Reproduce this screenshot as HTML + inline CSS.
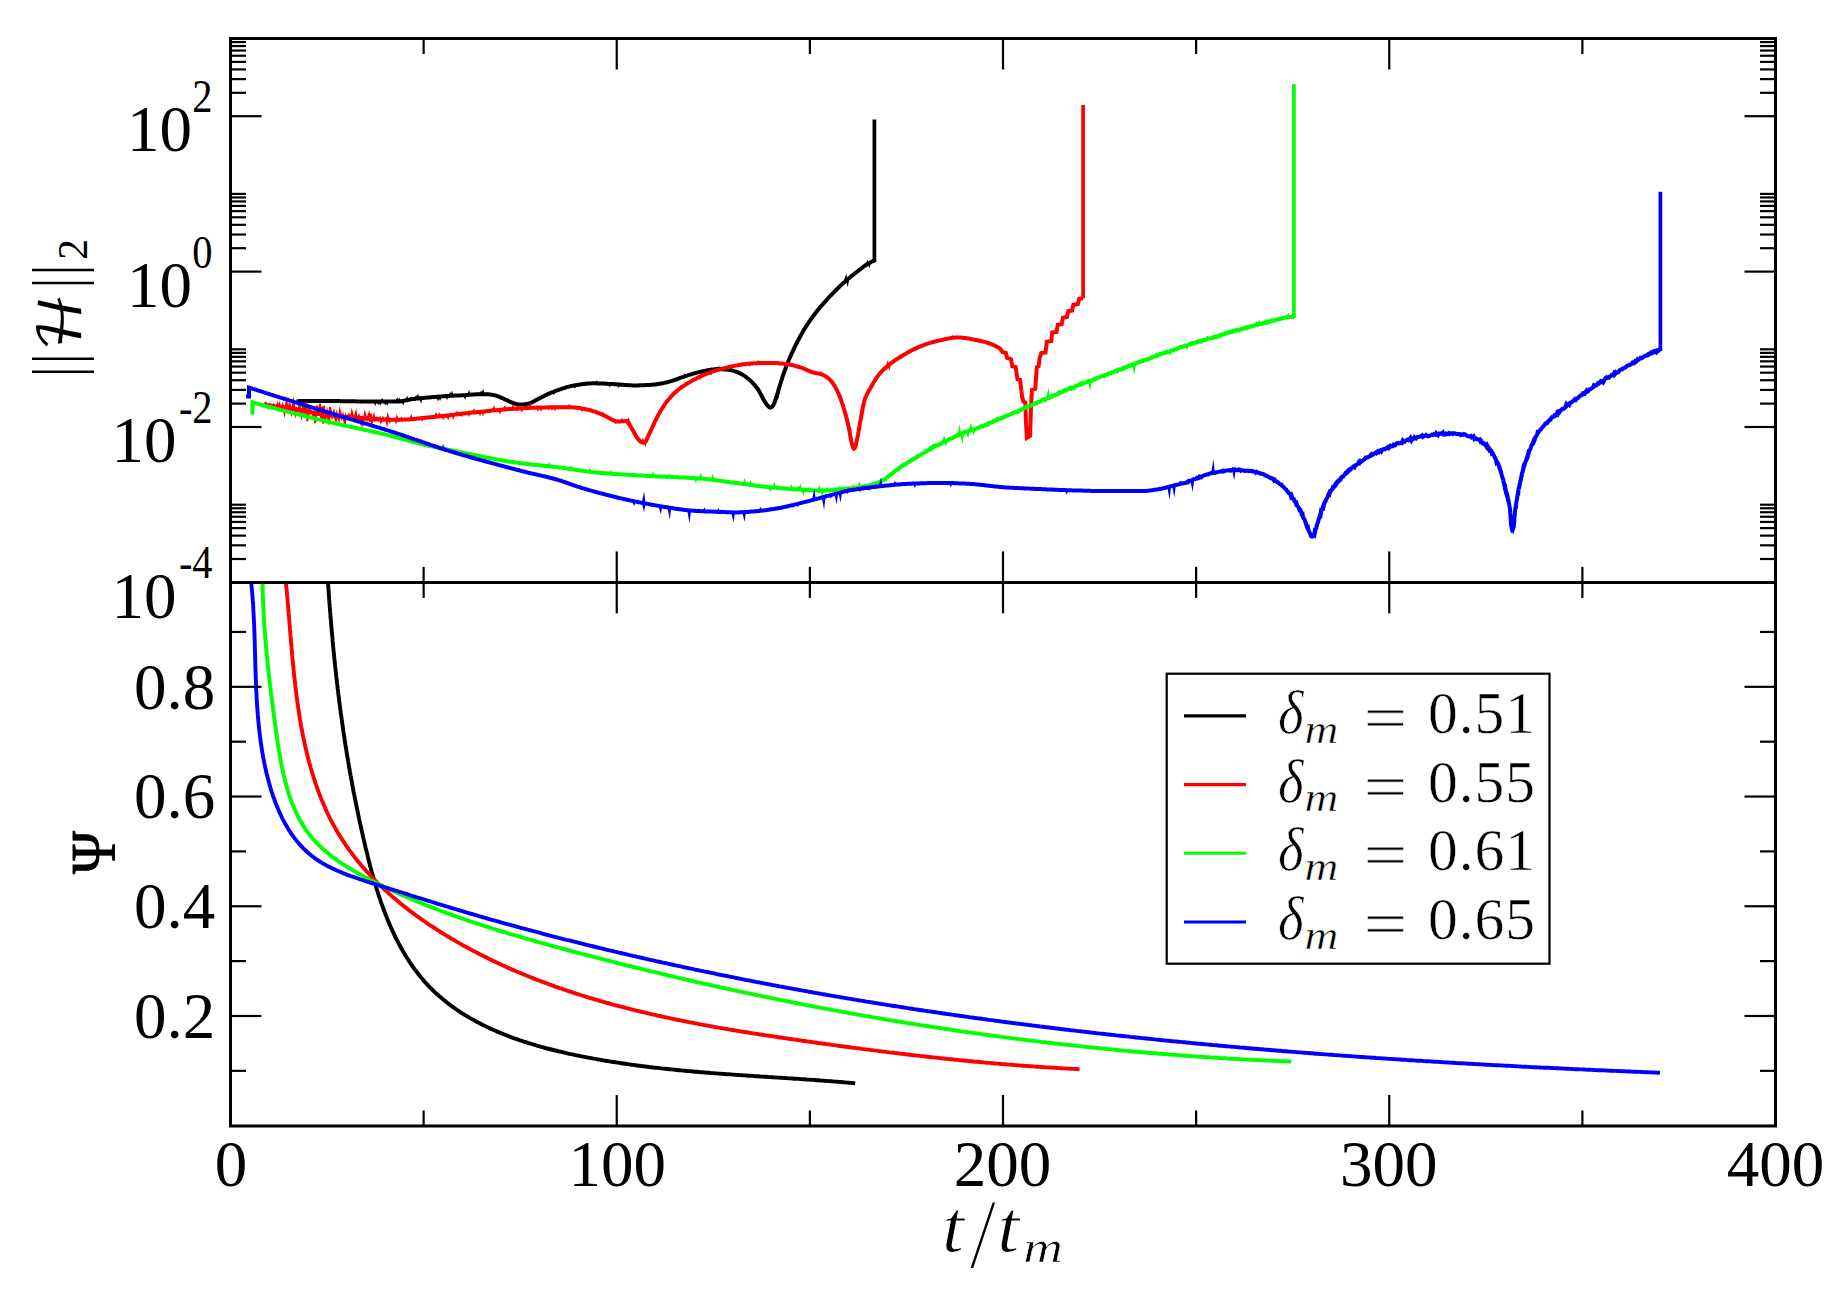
<!DOCTYPE html>
<html><head><meta charset="utf-8"><title>plot</title><style>html,body{margin:0;padding:0;background:#fff}svg{display:block}</style></head><body>
<svg width="1848" height="1293" viewBox="0 0 1848 1293">
<rect width="1848" height="1293" fill="#fff"/>
<defs><clipPath id="c1"><rect x="230.5" y="38.5" width="1545.0" height="543.9"/></clipPath>
<clipPath id="c2"><rect x="230.5" y="582.4" width="1545.0" height="543.6"/></clipPath></defs>
<g clip-path="url(#c1)">
<polyline points="296.6,401.2 297.6,401.2 298.6,401.2 299.6,401.1 300.6,401.1 301.6,401.1 302.7,401.1 303.7,401.1 304.7,401.1 305.7,401.1 306.7,401.1 307.7,401.1 308.7,401.1 309.7,401.1 310.7,401.0 311.7,401.0 312.7,401.0 313.7,401.0 314.7,401.0 315.7,401.0 316.7,401.0 317.7,401.0 318.7,401.0 319.7,401.0 320.7,401.0 321.7,401.0 322.7,401.0 323.7,401.0 324.7,401.0 325.7,401.0 326.7,401.0 327.7,401.0 328.7,401.0 329.7,401.0 330.7,401.0 331.7,401.1 332.7,401.1 333.7,401.1 334.7,401.1 335.7,401.1 336.7,401.1 337.7,401.1 338.7,401.1 339.7,401.1 340.7,401.2 341.7,401.2 342.7,401.2 343.8,401.2 344.8,401.2 345.8,401.2 346.8,401.2 347.8,401.3 348.8,401.3 349.8,401.3 350.8,401.3 351.8,401.3 352.8,401.3 353.8,401.3 354.8,401.3 355.8,401.3 356.8,401.4 357.8,401.4 358.8,401.4 359.8,401.4 360.8,401.4 361.8,401.4 362.8,401.4 363.8,401.4 364.8,401.4 365.8,401.4 366.8,401.4 367.8,401.5 368.8,401.5 369.8,401.5 370.8,401.5 371.8,401.5 372.8,401.5 373.9,401.5 374.9,401.5 375.9,401.5 376.9,401.5 377.9,401.5 378.9,401.5 379.9,401.6 380.9,401.6 381.9,401.6 382.9,401.6 383.9,401.6 384.9,401.6 385.9,401.6 386.9,401.6 387.9,401.6 388.9,401.6 389.9,401.6 390.9,401.6 391.9,401.6 392.9,401.6 393.9,401.6 394.9,401.6 395.9,401.6 396.9,401.6 397.9,401.6 398.9,401.5 399.9,401.4 400.8,401.2 401.8,401.1 402.8,400.9 403.8,400.7 404.8,400.6 405.8,400.4 406.8,400.2 407.8,400.0 408.8,399.8 409.8,399.6 410.7,399.4 411.7,399.2 412.7,399.1 413.7,399.0 414.7,398.9 415.7,398.7 416.7,398.6 417.7,398.5 418.7,398.4 419.7,398.3 420.7,398.2 421.7,398.1 422.7,398.0 423.7,397.9 424.7,397.8 425.7,397.7 426.7,397.6 427.7,397.5 428.7,397.5 429.7,397.4 430.7,397.3 431.7,397.2 432.7,397.1 433.7,397.0 434.7,396.9 435.7,396.9 436.7,396.8 437.7,396.7 438.7,396.6 439.7,396.6 440.7,396.5 441.7,396.4 442.7,396.3 443.7,396.3 444.7,396.2 445.7,396.1 446.7,396.1 447.7,396.0 448.7,395.9 449.7,395.9 450.7,395.8 451.7,395.8 452.7,395.7 453.7,395.7 454.7,395.6 455.7,395.6 456.7,395.5 457.7,395.5 458.7,395.5 459.7,395.4 460.7,395.4 461.7,395.3 462.7,395.3 463.7,395.2 464.7,395.2 465.7,395.1 466.7,395.0 467.7,395.0 468.7,394.9 469.7,394.8 470.7,394.7 471.7,394.6 472.7,394.5 473.7,394.4 474.7,394.4 475.7,394.3 476.7,394.3 477.7,394.3 478.7,394.3 479.7,394.3 480.7,394.3 481.7,394.3 482.7,394.3 483.7,394.3 484.7,394.3 485.7,394.3 486.7,394.3 487.7,394.3 488.7,394.3 489.7,394.4 490.7,394.6 491.7,394.7 492.7,394.9 493.7,395.1 494.7,395.3 495.6,395.6 496.6,395.8 497.5,396.1 498.5,396.4 499.4,396.8 500.3,397.2 501.3,397.7 502.2,398.1 503.1,398.5 504.0,398.9 504.9,399.3 505.9,399.7 506.8,400.2 507.7,400.6 508.6,401.1 509.5,401.5 510.4,401.9 511.3,402.3 512.2,402.7 513.2,403.0 514.1,403.3 515.1,403.6 516.1,404.0 517.0,404.2 518.0,404.5 519.0,404.6 520.0,404.6 521.0,404.6 522.0,404.6 523.0,404.5 524.0,404.4 525.0,404.2 526.0,404.1 527.0,403.9 528.0,403.7 528.9,403.5 529.8,403.2 530.8,402.9 531.7,402.5 532.6,402.0 533.5,401.5 534.4,401.1 535.3,400.6 536.2,400.0 537.1,399.6 538.0,399.1 538.9,398.6 539.8,398.2 540.7,397.7 541.6,397.3 542.4,396.8 543.3,396.4 544.2,395.9 545.1,395.4 546.0,395.0 546.9,394.6 547.8,394.1 548.7,393.7 549.7,393.3 550.6,392.9 551.5,392.5 552.4,392.1 553.4,391.8 554.3,391.4 555.2,391.1 556.2,390.7 557.1,390.4 558.1,390.1 559.0,389.7 560.0,389.4 560.9,389.1 561.9,388.7 562.8,388.4 563.8,388.1 564.8,387.8 565.7,387.5 566.7,387.2 567.7,386.9 568.6,386.7 569.6,386.4 570.6,386.2 571.5,385.9 572.5,385.7 573.5,385.6 574.5,385.4 575.4,385.2 576.4,385.1 577.4,384.9 578.4,384.8 579.4,384.6 580.4,384.5 581.4,384.3 582.4,384.2 583.4,384.0 584.4,383.9 585.4,383.8 586.4,383.7 587.4,383.6 588.4,383.5 589.4,383.5 590.4,383.4 591.4,383.4 592.4,383.3 593.4,383.3 594.4,383.3 595.4,383.3 596.4,383.3 597.4,383.4 598.4,383.4 599.4,383.4 600.4,383.5 601.4,383.5 602.4,383.5 603.4,383.6 604.4,383.6 605.4,383.7 606.4,383.8 607.4,383.8 608.4,383.9 609.4,383.9 610.4,384.0 611.4,384.0 612.4,384.1 613.4,384.1 614.4,384.2 615.4,384.2 616.4,384.3 617.4,384.4 618.4,384.4 619.4,384.5 620.4,384.6 621.4,384.7 622.4,384.7 623.4,384.8 624.4,384.9 625.4,385.0 626.4,385.0 627.4,385.1 628.4,385.2 629.4,385.2 630.4,385.3 631.4,385.3 632.4,385.4 633.4,385.4 634.5,385.4 635.5,385.4 636.5,385.4 637.5,385.4 638.5,385.4 639.5,385.3 640.5,385.3 641.5,385.3 642.5,385.2 643.5,385.2 644.5,385.2 645.5,385.1 646.5,385.1 647.5,385.0 648.5,384.9 649.5,384.9 650.5,384.8 651.5,384.8 652.5,384.7 653.5,384.6 654.5,384.5 655.5,384.4 656.5,384.3 657.5,384.1 658.5,384.0 659.4,383.8 660.4,383.6 661.4,383.4 662.4,383.3 663.4,383.1 664.4,382.9 665.4,382.6 666.3,382.4 667.3,382.2 668.3,382.0 669.2,381.7 670.2,381.4 671.1,381.1 672.1,380.8 673.0,380.5 674.0,380.1 674.9,379.8 675.9,379.5 676.8,379.1 677.8,378.8 678.7,378.4 679.7,378.1 680.6,377.7 681.6,377.4 682.5,377.1 683.5,376.8 684.4,376.5 685.4,376.2 686.3,375.9 687.3,375.6 688.3,375.2 689.2,374.9 690.2,374.6 691.1,374.3 692.1,374.0 693.0,373.7 694.0,373.4 695.0,373.2 695.9,372.9 696.9,372.6 697.9,372.4 698.8,372.2 699.8,371.9 700.8,371.7 701.8,371.5 702.8,371.3 703.7,371.1 704.7,370.9 705.7,370.7 706.7,370.5 707.7,370.3 708.7,370.1 709.7,370.0 710.7,369.8 711.7,369.6 712.7,369.5 713.7,369.4 714.7,369.3 715.6,369.2 716.6,369.1 717.6,369.1 718.6,369.1 719.6,369.1 720.6,369.2 721.6,369.2 722.7,369.3 723.7,369.3 724.7,369.4 725.7,369.5 726.7,369.6 727.7,369.7 728.6,369.8 729.6,369.9 730.6,370.1 731.6,370.3 732.6,370.6 733.6,370.9 734.5,371.2 735.5,371.5 736.4,371.9 737.4,372.2 738.3,372.6 739.2,373.0 740.1,373.4 741.0,373.8 741.8,374.3 742.7,374.8 743.6,375.4 744.4,375.9 745.3,376.5 746.1,377.1 746.9,377.8 747.7,378.4 748.5,379.0 749.2,379.7 750.0,380.3 750.7,381.0 751.4,381.7 752.1,382.4 752.8,383.1 753.5,383.8 754.2,384.6 754.9,385.4 755.5,386.1 756.2,386.9 756.8,387.7 757.4,388.5 757.9,389.3 758.5,390.1 759.0,391.0 759.5,391.9 760.0,392.7 760.4,393.6 760.9,394.5 761.4,395.4 761.8,396.3 762.3,397.2 762.7,398.1 763.2,399.0 763.7,399.9 764.3,400.7 764.8,401.6 765.3,402.4 765.9,403.3 766.5,404.2 767.1,405.0 767.7,405.7 768.4,406.4 769.2,407.1 770.1,407.6 770.9,407.4 771.9,406.8 772.6,406.1 773.2,405.4 773.6,404.6 774.1,403.7 774.5,402.8 774.8,401.8 775.2,400.7 775.5,399.7 775.8,398.8 776.1,397.8 776.5,396.9 776.8,395.9 777.1,395.0 777.4,394.0 777.6,393.0 777.9,392.1 778.2,391.1 778.5,390.1 778.7,389.2 779.0,388.2 779.3,387.2 779.6,386.3 779.9,385.3 780.2,384.4 780.5,383.4 780.8,382.4 781.1,381.5 781.4,380.5 781.7,379.6 782.0,378.6 782.3,377.7 782.6,376.7 782.9,375.8 783.3,374.8 783.6,373.9 783.9,372.9 784.2,372.0 784.6,371.0 784.9,370.1 785.3,369.2 785.6,368.2 786.0,367.3 786.3,366.3 786.7,365.4 787.0,364.5 787.4,363.5 787.8,362.6 788.2,361.7 788.5,360.7 788.9,359.8 789.3,358.9 789.7,358.0 790.1,357.0 790.5,356.1 790.9,355.2 791.3,354.3 791.7,353.4 792.1,352.5 792.6,351.6 793.0,350.7 793.4,349.8 793.9,348.8 794.3,347.9 794.7,347.0 795.2,346.1 795.6,345.2 796.1,344.3 796.5,343.5 797.0,342.6 797.4,341.7 797.9,340.8 798.4,339.9 798.8,339.0 799.3,338.1 799.8,337.2 800.2,336.3 800.7,335.5 801.2,334.6 801.7,333.7 802.2,332.8 802.7,332.0 803.2,331.1 803.7,330.3 804.2,329.4 804.8,328.5 805.3,327.7 805.8,326.8 806.4,326.0 806.9,325.1 807.5,324.3 808.0,323.5 808.6,322.6 809.1,321.8 809.7,321.0 810.3,320.1 810.8,319.3 811.4,318.5 812.0,317.7 812.6,316.9 813.2,316.1 813.8,315.3 814.4,314.5 815.0,313.7 815.6,312.9 816.2,312.1 816.9,311.3 817.5,310.5 818.1,309.8 818.8,309.0 819.4,308.2 820.0,307.4 820.7,306.7 821.3,305.9 822.0,305.2 822.7,304.4 823.3,303.6 824.0,302.9 824.6,302.1 825.3,301.4 826.0,300.7 826.7,299.9 827.3,299.2 828.0,298.4 828.7,297.7 829.4,297.0 830.0,296.2 830.7,295.5 831.4,294.8 832.1,294.0 832.8,293.3 833.5,292.6 834.2,291.9 834.9,291.2 835.6,290.5 836.3,289.8 837.1,289.1 837.8,288.3 838.5,287.6 839.2,286.9 839.9,286.3 840.7,285.6 841.4,284.9 842.1,284.2 842.9,283.5 843.6,282.8 844.3,282.2 845.1,281.5 845.8,280.8 846.6,280.2 847.3,279.5 848.1,278.9 848.9,278.2 849.7,277.6 850.4,277.0 851.2,276.3 852.0,275.7 852.8,275.1 853.6,274.5 854.4,273.8 855.2,273.2 855.9,272.6 856.7,272.0 857.5,271.4 858.3,270.7 859.1,270.1 859.9,269.5 860.7,268.9 861.5,268.2 862.3,267.6 863.1,267.0 863.9,266.4 864.7,265.8 865.5,265.3 866.3,264.7 867.2,264.2 868.0,263.7 868.9,263.2 869.8,262.7 870.7,262.2 871.6,261.8 872.5,261.3 873.4,260.9 874.3,260.5" fill="none" stroke="#000" stroke-width="4.00" stroke-linejoin="miter" stroke-miterlimit="3" />
<polyline points="873.4,260.9 874.3,260.5 874.4,260.5 874.4,119.5" fill="none" stroke="#000" stroke-width="3.70" stroke-linejoin="miter" stroke-miterlimit="3" />
<path d="M373.0,401.5 L375.4,405.9 L376.8,401.5 Z M376.0,401.5 L378.4,405.0 L379.8,401.5 Z M378.0,401.6 L380.4,405.8 L381.8,401.6 Z M380.0,401.6 L382.4,398.1 L383.8,401.6 Z M383.0,401.6 L385.4,405.3 L386.8,401.6 Z M385.0,401.6 L387.4,406.1 L388.8,401.6 Z M395.0,401.6 L397.4,397.1 L398.8,401.6 Z M397.0,401.5 L399.4,397.6 L400.8,401.5 Z M400.9,400.9 L403.3,405.2 L404.7,400.9 Z M404.9,400.2 L407.3,395.8 L408.7,400.2 Z M408.8,399.4 L411.2,396.2 L412.6,399.4 Z M413.8,398.7 L416.2,395.1 L417.6,398.7 Z M415.8,398.5 L418.2,393.4 L419.6,398.5 Z M418.8,398.2 L421.2,403.4 L422.6,398.2 Z M435.8,396.7 L438.2,401.4 L439.6,396.7 Z M437.8,396.6 L440.2,401.0 L441.6,396.6 Z M444.8,396.1 L447.2,400.1 L448.6,396.1 Z M447.8,395.9 L450.2,391.8 L451.6,395.9 Z M449.8,395.8 L452.2,390.7 L453.6,395.8 Z M462.8,395.2 L465.2,399.7 L466.6,395.2 Z M466.8,394.9 L469.2,390.1 L470.6,394.9 Z M478.8,394.3 L481.2,390.5 L482.6,394.3 Z M480.8,394.3 L483.2,388.8 L484.6,394.3 Z M551.5,391.8 L553.9,395.2 L555.3,391.8 Z M572.6,385.4 L575.0,388.8 L576.4,385.4 Z M594.5,383.3 L596.9,380.2 L598.3,383.3 Z M607.5,383.9 L609.9,387.4 L611.3,383.9 Z M616.5,384.4 L618.9,387.9 L620.3,384.4 Z M682.5,376.5 L684.9,373.5 L686.3,376.5 Z M699.9,371.5 L702.3,374.2 L703.7,371.5 Z M716.7,369.1 L719.1,366.0 L720.5,369.1 Z M779.2,381.5 L781.6,378.9 L783.0,381.5 Z M789.4,354.3 L791.8,357.0 L793.2,354.3 Z M843.9,280.8 L846.3,273.8 L847.7,280.8 Z M845.4,279.5 L847.8,287.0 L849.2,279.5 Z M865.3,264.2 L867.7,259.7 L869.1,264.2 Z M867.0,263.2 L869.4,268.0 L870.8,263.2 Z M773.6,399.7 L776.0,392.7 L777.4,399.7 Z M775.7,393.0 L778.1,399.5 L779.5,393.0 Z" fill="#000" stroke="none"/>
<polyline points="263.7,404.7 264.7,404.8 265.7,404.9 266.7,405.1 267.7,405.2 268.7,405.4 269.7,405.5 270.7,405.7 271.6,405.8 272.6,406.0 273.6,406.1 274.6,406.3 275.6,406.4 276.6,406.5 277.6,406.7 278.6,406.8 279.6,406.9 280.6,407.1 281.6,407.2 282.6,407.4 283.6,407.5 284.5,407.6 285.5,407.8 286.5,407.9 287.5,408.0 288.5,408.2 289.5,408.3 290.5,408.5 291.5,408.6 292.5,408.8 293.5,408.9 294.5,409.1 295.4,409.2 296.4,409.4 297.4,409.5 298.4,409.7 299.4,409.9 300.4,410.1 301.4,410.3 302.4,410.5 303.3,410.7 304.3,410.9 305.3,411.1 306.3,411.3 307.3,411.5 308.2,411.7 309.2,411.9 310.2,412.1 311.2,412.3 312.2,412.5 313.2,412.7 314.1,412.9 315.1,413.1 316.1,413.3 317.1,413.4 318.1,413.6 319.1,413.8 320.0,414.0 321.0,414.1 322.0,414.3 323.0,414.4 324.0,414.5 325.0,414.7 326.0,414.8 327.0,414.9 328.0,415.1 329.0,415.2 330.0,415.3 331.0,415.4 332.0,415.5 332.9,415.7 333.9,415.8 334.9,415.9 335.9,416.0 336.9,416.1 337.9,416.2 338.9,416.3 339.9,416.4 340.9,416.5 341.9,416.6 342.9,416.7 343.9,416.8 344.9,416.9 345.9,417.0 346.9,417.1 347.9,417.1 348.9,417.2 349.9,417.3 350.9,417.4 351.9,417.5 352.9,417.6 353.9,417.7 354.9,417.7 355.9,417.8 356.9,417.9 357.9,418.0 358.9,418.1 359.9,418.1 360.9,418.2 361.9,418.3 362.9,418.3 363.9,418.4 364.9,418.4 365.9,418.5 366.9,418.6 367.9,418.6 368.9,418.7 369.9,418.7 370.9,418.8 371.9,418.9 372.9,418.9 373.9,419.0 374.9,419.0 375.9,419.1 376.9,419.2 377.9,419.2 378.9,419.3 379.9,419.3 380.9,419.4 381.9,419.4 382.9,419.5 383.9,419.5 384.9,419.6 385.9,419.6 386.9,419.6 387.9,419.7 388.9,419.7 389.9,419.7 390.9,419.8 391.9,419.8 392.9,419.8 393.9,419.8 394.9,419.8 395.9,419.8 396.9,419.8 397.9,419.8 398.9,419.8 399.9,419.8 400.9,419.7 401.9,419.7 402.9,419.7 403.9,419.6 404.9,419.6 405.9,419.5 406.9,419.5 407.9,419.4 408.9,419.4 409.9,419.3 410.9,419.3 411.9,419.2 412.9,419.1 413.9,419.0 414.9,418.9 415.9,418.8 416.9,418.6 417.9,418.5 418.9,418.4 419.9,418.3 420.9,418.2 421.9,418.1 422.9,418.0 423.9,417.9 424.9,417.8 425.9,417.7 426.9,417.6 427.9,417.5 428.9,417.4 429.9,417.3 430.9,417.2 431.9,417.1 432.9,417.0 433.8,416.9 434.8,416.8 435.8,416.7 436.8,416.6 437.8,416.5 438.8,416.4 439.8,416.3 440.8,416.2 441.8,416.1 442.8,416.0 443.8,415.9 444.8,415.8 445.8,415.7 446.8,415.6 447.8,415.5 448.8,415.4 449.8,415.3 450.8,415.1 451.8,415.0 452.8,414.9 453.8,414.8 454.8,414.6 455.8,414.5 456.7,414.4 457.7,414.3 458.7,414.1 459.7,414.0 460.7,413.9 461.7,413.7 462.7,413.6 463.7,413.5 464.7,413.4 465.7,413.3 466.7,413.2 467.7,413.1 468.7,412.9 469.7,412.8 470.7,412.7 471.7,412.6 472.7,412.5 473.7,412.5 474.7,412.4 475.7,412.3 476.7,412.2 477.7,412.1 478.7,412.0 479.7,411.9 480.6,411.8 481.6,411.7 482.6,411.6 483.6,411.5 484.6,411.4 485.6,411.3 486.6,411.2 487.6,411.1 488.6,411.0 489.6,410.9 490.6,410.8 491.6,410.6 492.6,410.5 493.6,410.4 494.6,410.3 495.6,410.2 496.6,410.2 497.6,410.1 498.6,410.0 499.6,409.9 500.6,409.8 501.6,409.7 502.6,409.6 503.6,409.5 504.6,409.5 505.6,409.4 506.6,409.3 507.6,409.2 508.6,409.1 509.6,409.1 510.6,409.0 511.6,408.9 512.6,408.9 513.6,408.8 514.6,408.7 515.6,408.7 516.6,408.6 517.6,408.5 518.6,408.5 519.6,408.4 520.6,408.4 521.6,408.3 522.6,408.2 523.6,408.2 524.6,408.1 525.6,408.1 526.6,408.0 527.6,408.0 528.6,407.9 529.6,407.9 530.6,407.8 531.6,407.8 532.6,407.7 533.6,407.7 534.6,407.7 535.6,407.7 536.6,407.6 537.6,407.6 538.6,407.6 539.6,407.5 540.6,407.5 541.6,407.5 542.6,407.5 543.6,407.4 544.6,407.4 545.6,407.4 546.6,407.4 547.6,407.3 548.6,407.3 549.6,407.3 550.6,407.3 551.6,407.3 552.6,407.3 553.6,407.3 554.6,407.3 555.6,407.3 556.6,407.2 557.6,407.2 558.6,407.2 559.6,407.2 560.6,407.2 561.6,407.2 562.6,407.2 563.6,407.2 564.6,407.2 565.6,407.2 566.6,407.2 567.6,407.2 568.6,407.2 569.6,407.2 570.6,407.2 571.6,407.3 572.6,407.3 573.6,407.4 574.6,407.5 575.6,407.6 576.6,407.7 577.6,407.8 578.6,408.0 579.6,408.1 580.6,408.3 581.6,408.5 582.6,408.7 583.6,408.8 584.6,409.0 585.6,409.2 586.6,409.4 587.5,409.6 588.5,409.8 589.5,410.0 590.4,410.3 591.4,410.5 592.4,410.8 593.3,411.1 594.3,411.4 595.2,411.7 596.1,412.1 597.1,412.5 598.0,412.9 598.9,413.2 599.9,413.6 600.8,414.0 601.7,414.4 602.6,414.8 603.6,415.2 604.5,415.6 605.4,416.1 606.3,416.5 607.2,417.0 608.1,417.6 609.0,418.1 609.9,418.6 610.9,419.1 611.8,419.6 612.7,420.1 613.6,420.5 614.5,420.8 615.4,421.1 616.4,421.3 617.3,421.4 618.3,421.4 619.3,421.4 620.4,421.4 621.5,421.3 622.6,421.2 623.6,421.2 624.6,421.1 625.5,421.1 626.3,421.1 627.1,421.2 627.7,421.7 628.3,422.3 628.9,423.2 629.5,424.2 630.0,425.3 630.5,426.4 631.1,427.4 631.6,428.3 632.2,429.2 632.7,430.0 633.2,430.9 633.7,431.8 634.2,432.8 634.7,433.7 635.2,434.6 635.7,435.5 636.2,436.4 636.7,437.2 637.3,438.0 637.9,438.8 638.5,439.5 639.1,440.2 639.8,440.9 640.6,441.5 641.5,442.1 642.5,442.5 643.4,442.5 644.4,442.3 645.1,441.9 645.7,441.3 646.3,440.6 646.7,439.7 647.2,438.7 647.6,437.6 648.0,436.5 648.4,435.5 648.9,434.5 649.3,433.7 649.8,432.8 650.2,431.9 650.7,430.9 651.1,430.0 651.5,429.1 651.9,428.2 652.3,427.3 652.7,426.4 653.2,425.5 653.6,424.6 654.0,423.6 654.4,422.7 654.8,421.8 655.2,420.9 655.7,420.0 656.1,419.1 656.6,418.2 657.0,417.3 657.5,416.4 658.0,415.6 658.5,414.7 658.9,413.8 659.4,412.9 659.9,412.1 660.5,411.2 661.0,410.3 661.5,409.5 662.0,408.6 662.6,407.8 663.1,406.9 663.6,406.1 664.2,405.2 664.8,404.4 665.4,403.6 665.9,402.8 666.5,402.0 667.1,401.2 667.8,400.5 668.4,399.7 669.0,398.9 669.7,398.1 670.4,397.4 671.0,396.6 671.7,395.9 672.4,395.1 673.1,394.4 673.8,393.7 674.6,393.0 675.3,392.3 676.0,391.7 676.8,391.0 677.5,390.4 678.3,389.8 679.1,389.1 679.9,388.5 680.7,387.9 681.5,387.3 682.3,386.8 683.1,386.2 684.0,385.6 684.8,385.1 685.7,384.5 686.5,384.0 687.4,383.5 688.2,382.9 689.1,382.4 690.0,381.9 690.8,381.4 691.7,380.9 692.6,380.4 693.4,379.9 694.3,379.5 695.2,379.0 696.1,378.5 697.0,378.1 697.9,377.6 698.8,377.2 699.7,376.7 700.6,376.3 701.5,375.9 702.4,375.5 703.4,375.1 704.3,374.7 705.2,374.3 706.1,373.9 707.1,373.6 708.0,373.2 708.9,372.9 709.9,372.5 710.8,372.2 711.8,371.9 712.7,371.5 713.7,371.2 714.6,370.9 715.6,370.6 716.5,370.3 717.5,370.0 718.5,369.7 719.4,369.5 720.4,369.2 721.4,368.9 722.3,368.7 723.3,368.4 724.3,368.1 725.2,367.9 726.2,367.6 727.2,367.4 728.2,367.2 729.1,366.9 730.1,366.7 731.1,366.5 732.1,366.3 733.1,366.1 734.0,365.9 735.0,365.7 736.0,365.6 737.0,365.4 738.0,365.2 739.0,365.1 740.0,364.9 740.9,364.7 741.9,364.6 742.9,364.4 743.9,364.3 744.9,364.2 745.9,364.0 746.9,363.9 747.9,363.8 748.9,363.7 749.9,363.6 750.9,363.5 751.9,363.4 752.9,363.4 753.9,363.3 754.9,363.3 755.9,363.2 756.9,363.2 757.9,363.2 758.9,363.1 759.9,363.1 760.9,363.0 761.9,363.0 762.9,363.0 763.9,363.0 764.9,362.9 765.9,362.9 766.9,362.9 767.9,362.9 768.9,362.9 769.9,362.9 770.9,362.9 771.9,362.9 772.9,362.9 773.9,363.0 774.9,363.0 775.9,363.1 776.9,363.1 777.9,363.2 778.9,363.3 779.9,363.4 780.9,363.5 781.9,363.6 782.9,363.7 783.9,363.8 784.9,363.9 785.9,364.1 786.9,364.2 787.9,364.3 788.9,364.4 789.9,364.6 790.8,364.8 791.8,365.0 792.8,365.2 793.8,365.5 794.8,365.7 795.7,366.0 796.7,366.3 797.7,366.6 798.6,366.8 799.6,367.1 800.5,367.4 801.5,367.7 802.4,368.1 803.4,368.4 804.3,368.8 805.2,369.2 806.1,369.7 807.0,370.1 807.9,370.5 808.9,370.9 809.8,371.3 810.7,371.7 811.7,372.0 812.6,372.3 813.6,372.5 814.6,372.8 815.6,373.0 816.6,373.2 817.5,373.4 818.5,373.6 819.5,373.8 820.5,374.1 821.4,374.4 822.3,374.7 823.2,375.1 824.1,375.5 825.0,376.0 825.9,376.6 826.8,377.1 827.6,377.7 828.4,378.3 829.1,379.0 829.8,379.6 830.5,380.3 831.2,381.1 831.8,381.9 832.4,382.7 833.0,383.5 833.6,384.4 834.1,385.2 834.7,386.1 835.2,387.0 835.7,387.8 836.2,388.7 836.6,389.6 837.1,390.5 837.5,391.3 837.9,392.3 838.3,393.2 838.7,394.1 839.1,395.0 839.5,395.9 839.9,396.9 840.2,397.8 840.6,398.8 840.9,399.7 841.3,400.7 841.6,401.6 841.9,402.6 842.2,403.5 842.6,404.5 842.9,405.5 843.2,406.4 843.5,407.4 843.8,408.3 844.1,409.3 844.4,410.2 844.6,411.2 844.9,412.1 845.2,413.1 845.5,414.1 845.7,415.0 846.0,416.0 846.2,417.0 846.5,418.0 846.7,418.9 847.0,419.9 847.2,420.9 847.5,421.9 847.7,422.8 847.9,423.8 848.2,424.8 848.4,425.7 848.6,426.7 848.8,427.7 849.0,428.7 849.2,429.7 849.4,430.7 849.5,431.7 849.7,432.7 849.9,433.7 850.1,434.7 850.2,435.7 850.4,436.6 850.6,437.6 850.8,438.6 851.0,439.6 851.2,440.6 851.4,441.6 851.6,442.5 851.9,443.5 852.1,444.4 852.4,445.4 852.7,446.4 853.1,447.6 853.5,448.5 854.1,448.7 854.8,448.0 855.3,447.0 855.6,446.2 855.9,445.2 856.1,444.2 856.3,443.2 856.5,442.2 856.7,441.2 856.9,440.2 857.1,439.2 857.3,438.2 857.5,437.2 857.7,436.3 857.9,435.3 858.1,434.3 858.2,433.3 858.4,432.3 858.6,431.3 858.7,430.3 858.9,429.4 859.1,428.4 859.2,427.4 859.4,426.4 859.6,425.4 859.8,424.4 859.9,423.4 860.1,422.4 860.3,421.5 860.5,420.5 860.7,419.5 860.9,418.5 861.0,417.5 861.2,416.5 861.4,415.5 861.6,414.5 861.7,413.5 861.9,412.5 862.1,411.5 862.3,410.5 862.5,409.5 862.6,408.5 862.8,407.6 863.0,406.6 863.2,405.6 863.5,404.6 863.7,403.7 863.9,402.7 864.2,401.7 864.4,400.8 864.7,399.8 865.0,398.9 865.3,398.0 865.7,397.1 866.1,396.1 866.5,395.2 866.9,394.3 867.4,393.4 867.9,392.6 868.4,391.7 868.9,390.8 869.4,389.9 869.9,389.0 870.4,388.2 870.9,387.3 871.4,386.4 871.9,385.5 872.4,384.6 872.9,383.8 873.4,382.9 873.9,382.0 874.4,381.2 874.9,380.3 875.5,379.5 876.0,378.6 876.6,377.8 877.1,377.0 877.7,376.2 878.3,375.4 878.9,374.6 879.5,373.8 880.2,373.1 880.8,372.3 881.5,371.6 882.2,370.9 882.9,370.1 883.7,369.4 884.4,368.7 885.2,368.1 885.9,367.4 886.7,366.7 887.4,366.1 888.2,365.4 888.9,364.8 889.7,364.2 890.5,363.6 891.3,363.0 892.1,362.4 892.9,361.8 893.8,361.2 894.6,360.6 895.4,360.1 896.3,359.5 897.1,359.0 897.9,358.4 898.8,357.9 899.6,357.3 900.5,356.8 901.3,356.3 902.2,355.8 903.0,355.2 903.9,354.7 904.8,354.2 905.6,353.7 906.5,353.2 907.4,352.7 908.2,352.2 909.1,351.7 910.0,351.2 910.9,350.7 911.8,350.3 912.7,349.8 913.6,349.4 914.5,348.9 915.4,348.5 916.3,348.1 917.2,347.7 918.1,347.3 919.0,346.9 920.0,346.5 920.9,346.2 921.8,345.8 922.8,345.4 923.7,345.1 924.6,344.7 925.6,344.4 926.5,344.0 927.5,343.7 928.4,343.4 929.4,343.1 930.4,342.8 931.3,342.5 932.3,342.2 933.3,342.0 934.2,341.8 935.2,341.5 936.2,341.3 937.1,341.0 938.1,340.8 939.1,340.6 940.1,340.3 941.0,340.1 942.0,339.9 943.0,339.6 944.0,339.4 945.0,339.2 946.0,339.0 947.0,338.8 948.0,338.6 949.0,338.4 950.0,338.2 950.9,338.1 951.9,337.9 952.9,337.8 953.9,337.7 954.9,337.6 955.9,337.6 956.9,337.5 957.9,337.5 958.9,337.5 959.9,337.5 960.9,337.6 961.9,337.7 962.9,337.7 963.9,337.9 964.8,338.0 965.8,338.1 966.8,338.3 967.8,338.5 968.8,338.6 969.8,338.8 970.8,339.0 971.8,339.2 972.8,339.4 973.8,339.6 974.8,339.8 975.7,340.0 976.7,340.2 977.7,340.3 978.7,340.5 979.7,340.8 980.7,341.0 981.7,341.2 982.6,341.4 983.6,341.7 984.6,341.9 985.6,342.2 986.5,342.5 987.5,342.7 988.4,343.0 989.4,343.3 990.3,343.7 991.2,344.0 992.1,344.4 993.1,344.8 994.0,345.2 994.9,345.7 995.8,346.1 996.6,346.6 997.5,347.1 998.4,347.6 999.3,348.1 1000.1,348.7 1002.6,352.1 1005.8,352.7 1007.1,357.9 1011.0,359.2 1012.3,366.4 1015.6,367.0 1017.5,379.4 1020.1,380.0 1022.1,396.9 1023.4,401.4 1025.3,402.7 1026.0,422.9 1026.9,437.8 1030.1,435.8 1030.9,409.9 1031.9,389.7 1035.3,388.8 1036.8,367.3 1038.6,366.4 1039.6,357.9 1041.3,353.0 1045.5,352.5 1046.8,341.7 1051.3,341.0 1052.2,332.6 1056.5,331.9 1057.8,324.8 1061.7,324.2 1063.0,317.7 1066.9,317.0 1068.2,311.2 1072.1,310.5 1073.4,304.7 1077.9,304.0 1079.2,298.8 1083.1,298.2" fill="none" stroke="#f00" stroke-width="4.00" stroke-linejoin="miter" stroke-miterlimit="3" />
<polyline points="1083.1,298.2 1083.1,298.2 1083.1,105.0" fill="none" stroke="#f00" stroke-width="3.70" stroke-linejoin="miter" stroke-miterlimit="3" />
<polyline points="263.7,404.7 265.7,402.7 267.7,407.6 269.7,404.3 271.6,407.0 273.6,404.5 275.6,407.6 277.6,403.8 278.6,408.6 279.6,404.7 280.6,409.4 282.6,404.7 284.5,413.4 286.5,401.7 288.5,413.2 289.5,403.2 291.5,412.6 293.5,401.8 295.4,413.7 296.4,408.6 298.4,412.1 299.4,404.4 301.4,415.3 303.3,403.1 304.3,414.0 306.3,402.2 307.3,421.3 309.2,405.1 310.2,412.9 311.2,410.9 313.2,415.6 314.1,410.5 315.1,423.1 317.1,405.6 318.1,415.8 320.0,403.8 321.0,419.4 322.0,406.7 323.0,423.8 324.0,405.9 325.0,421.8 327.0,411.6 329.0,424.3 330.0,407.0 332.0,416.7 333.9,411.4 335.9,421.6 336.9,413.7 338.9,420.0 339.9,410.8 341.9,417.9 342.9,414.8 344.9,424.1 345.9,415.5 346.9,417.7 348.9,414.5 350.9,418.7 351.9,412.0 353.9,419.6 355.9,412.6 356.9,419.7 358.9,415.7 360.9,423.1 361.9,415.9 362.9,423.1 364.9,413.2 366.9,419.9 368.9,413.8 369.9,421.9 370.9,413.5 371.9,422.8 373.9,415.5 374.9,420.4 376.9,417.7 378.9,420.4 379.9,418.1 380.9,422.1 382.9,417.9 383.9,420.5 385.9,418.5 386.9,422.8 387.9,415.7 389.9,421.5 390.9,419.3 392.9,420.2 394.9,419.1 395.9,421.6 396.9,417.3 398.9,422.0" fill="none" stroke="#f00" stroke-width="1.90" stroke-linejoin="miter" stroke-miterlimit="6"/>
<path d="M399.0,419.7 L401.4,416.2 L402.8,419.7 Z M409.0,419.3 L411.4,413.9 L412.8,419.3 Z M420.0,418.1 L422.4,421.8 L423.8,418.1 Z M433.9,416.7 L436.3,411.4 L437.7,416.7 Z M436.9,416.4 L439.3,411.8 L440.7,416.4 Z M440.9,416.0 L443.3,420.3 L444.7,416.0 Z M445.9,415.5 L448.3,420.6 L449.7,415.5 Z M450.9,414.9 L453.3,420.1 L454.7,414.9 Z M454.8,414.4 L457.2,410.5 L458.6,414.4 Z M459.8,413.7 L462.2,417.3 L463.6,413.7 Z M466.8,412.9 L469.2,416.9 L470.6,412.9 Z M471.8,412.5 L474.2,408.1 L475.6,412.5 Z M477.8,411.9 L480.2,416.4 L481.6,411.9 Z M480.7,411.6 L483.1,416.6 L484.5,411.6 Z M491.7,410.4 L494.1,405.1 L495.5,410.4 Z M497.7,409.9 L500.1,414.7 L501.5,409.9 Z M502.7,409.5 L505.1,404.7 L506.5,409.5 Z M510.7,408.9 L513.1,403.9 L514.5,408.9 Z M514.7,408.6 L517.1,411.8 L518.5,408.6 Z M519.7,408.3 L522.1,412.4 L523.5,408.3 Z M527.7,407.9 L530.1,403.0 L531.5,407.9 Z M535.7,407.6 L538.1,412.1 L539.5,407.6 Z M538.7,407.5 L541.1,411.8 L542.5,407.5 Z M546.7,407.3 L549.1,410.7 L550.5,407.3 Z M549.7,407.3 L552.1,410.9 L553.5,407.3 Z M552.7,407.3 L555.1,411.5 L556.5,407.3 Z M566.7,407.2 L569.1,403.7 L570.5,407.2 Z M579.7,408.5 L582.1,412.1 L583.5,408.5 Z M590.5,410.8 L592.9,413.8 L594.3,410.8 Z M600.7,414.8 L603.1,411.4 L604.5,414.8 Z M613.5,421.1 L615.9,424.6 L617.3,421.1 Z M619.6,421.3 L622.0,417.7 L623.4,421.3 Z M678.0,388.5 L680.4,385.0 L681.8,388.5 Z M689.8,380.9 L692.2,378.3 L693.6,380.9 Z M697.8,376.7 L700.2,380.0 L701.6,376.7 Z M708.9,372.2 L711.3,375.6 L712.7,372.2 Z M740.0,364.6 L742.4,361.8 L743.8,364.6 Z M748.0,363.6 L750.4,366.7 L751.8,363.6 Z M756.0,363.2 L758.4,360.0 L759.8,363.2 Z M784.0,364.1 L786.4,367.8 L787.8,364.1 Z M795.8,366.6 L798.2,369.5 L799.6,366.6 Z M818.6,374.1 L821.0,370.7 L822.4,374.1 Z M839.4,400.7 L841.8,397.7 L843.2,400.7 Z M857.2,428.4 L859.6,431.5 L861.0,428.4 Z M884.0,367.4 L886.4,370.6 L887.8,367.4 Z M899.4,356.3 L901.8,359.3 L903.2,356.3 Z M914.4,348.1 L916.8,351.1 L918.2,348.1 Z M940.1,339.9 L942.5,342.5 L943.9,339.9 Z M950.0,337.9 L952.4,334.8 L953.8,337.9 Z M993.0,345.7 L995.4,348.5 L996.8,345.7 Z M626.4,422.3 L628.8,417.3 L630.2,422.3 Z M625.2,421.2 L627.6,426.2 L629.0,421.2 Z M640.6,442.5 L643.0,437.5 L644.4,442.5 Z M643.2,441.9 L645.6,446.9 L647.0,441.9 Z M885.5,366.1 L887.9,360.1 L889.3,366.1 Z M887.0,364.8 L889.4,370.8 L890.8,364.8 Z" fill="#f00" stroke="none"/>
<polyline points="250.3,412.4 252.5,412.4 252.5,402.4 252.5,402.4 253.5,402.7 254.4,402.9 255.4,403.2 256.4,403.4 257.3,403.7 258.3,404.0 259.3,404.2 260.2,404.5 261.2,404.7 262.2,405.0 263.1,405.3 264.1,405.5 265.1,405.8 266.0,406.0 267.0,406.3 268.0,406.6 268.9,406.8 269.9,407.1 270.9,407.3 271.9,407.6 272.8,407.8 273.8,408.1 274.8,408.3 275.7,408.6 276.7,408.8 277.7,409.1 278.6,409.4 279.6,409.6 280.6,409.9 281.5,410.1 282.5,410.4 283.5,410.6 284.5,410.9 285.4,411.1 286.4,411.4 287.4,411.6 288.3,411.9 289.3,412.1 290.3,412.4 291.2,412.6 292.2,412.9 293.2,413.1 294.2,413.4 295.1,413.6 296.1,413.8 297.1,414.1 298.0,414.3 299.0,414.6 300.0,414.8 301.0,415.1 301.9,415.3 302.9,415.6 303.9,415.8 304.8,416.0 305.8,416.3 306.8,416.5 307.8,416.8 308.7,417.0 309.7,417.3 310.7,417.5 311.6,417.7 312.6,418.0 313.6,418.2 314.6,418.5 315.5,418.7 316.5,418.9 317.5,419.2 318.4,419.4 319.4,419.6 320.4,419.9 321.4,420.1 322.3,420.3 323.3,420.6 324.3,420.8 325.3,421.0 326.2,421.3 327.2,421.5 328.2,421.7 329.2,422.0 330.1,422.2 331.1,422.4 332.1,422.6 333.1,422.9 334.0,423.1 335.0,423.3 336.0,423.5 337.0,423.8 337.9,424.0 338.9,424.2 339.9,424.4 340.9,424.6 341.9,424.8 342.8,425.1 343.8,425.3 344.8,425.5 345.8,425.7 346.8,425.9 347.7,426.1 348.7,426.4 349.7,426.6 350.7,426.8 351.6,427.0 352.6,427.2 353.6,427.4 354.6,427.6 355.6,427.8 356.5,428.1 357.5,428.3 358.5,428.5 359.5,428.7 360.5,428.9 361.4,429.1 362.4,429.3 363.4,429.6 364.4,429.8 365.4,430.0 366.3,430.2 367.3,430.4 368.3,430.6 369.3,430.8 370.2,431.1 371.2,431.3 372.2,431.5 373.2,431.7 374.2,431.9 375.1,432.2 376.1,432.4 377.1,432.6 378.1,432.8 379.0,433.0 380.0,433.3 381.0,433.5 382.0,433.7 382.9,434.0 383.9,434.2 384.9,434.4 385.9,434.6 386.8,434.9 387.8,435.1 388.8,435.3 389.8,435.6 390.7,435.8 391.7,436.1 392.7,436.3 393.6,436.5 394.6,436.8 395.6,437.0 396.6,437.3 397.5,437.5 398.5,437.8 399.5,438.0 400.4,438.3 401.4,438.6 402.3,438.8 403.3,439.1 404.3,439.4 405.2,439.7 406.2,439.9 407.2,440.2 408.1,440.5 409.1,440.8 410.1,441.0 411.0,441.3 412.0,441.5 413.0,441.8 413.9,442.1 414.9,442.3 415.9,442.6 416.8,442.8 417.8,443.1 418.8,443.3 419.7,443.6 420.7,443.8 421.7,444.1 422.7,444.3 423.6,444.6 424.6,444.8 425.6,445.0 426.6,445.3 427.5,445.5 428.5,445.7 429.5,446.0 430.5,446.2 431.4,446.4 432.4,446.6 433.4,446.8 434.4,447.0 435.3,447.2 436.3,447.4 437.3,447.6 438.3,447.8 439.3,448.0 440.3,448.2 441.2,448.4 442.2,448.6 443.2,448.8 444.2,449.0 445.2,449.1 446.2,449.3 447.1,449.5 448.1,449.7 449.1,449.9 450.1,450.1 451.1,450.3 452.1,450.5 453.0,450.7 454.0,450.9 455.0,451.1 456.0,451.3 457.0,451.5 457.9,451.7 458.9,451.9 459.9,452.1 460.9,452.3 461.9,452.5 462.9,452.7 463.8,452.9 464.8,453.1 465.8,453.3 466.8,453.5 467.8,453.7 468.8,453.9 469.7,454.0 470.7,454.2 471.7,454.4 472.7,454.6 473.7,454.8 474.6,455.0 475.6,455.2 476.6,455.4 477.6,455.6 478.6,455.8 479.6,456.0 480.5,456.2 481.5,456.4 482.5,456.6 483.5,456.8 484.5,457.0 485.4,457.2 486.4,457.4 487.4,457.6 488.4,457.8 489.4,458.0 490.3,458.2 491.3,458.4 492.3,458.6 493.3,458.8 494.3,459.0 495.3,459.2 496.2,459.4 497.2,459.6 498.2,459.8 499.2,460.0 500.2,460.1 501.2,460.3 502.2,460.5 503.1,460.6 504.1,460.8 505.1,460.9 506.1,461.1 507.1,461.2 508.1,461.4 509.1,461.5 510.1,461.7 511.1,461.8 512.1,462.0 513.0,462.1 514.0,462.2 515.0,462.4 516.0,462.5 517.0,462.7 518.0,462.8 519.0,462.9 520.0,463.1 521.0,463.2 522.0,463.3 523.0,463.4 524.0,463.6 525.0,463.7 526.0,463.8 526.9,463.9 527.9,464.1 528.9,464.2 529.9,464.3 530.9,464.4 531.9,464.5 532.9,464.7 533.9,464.8 534.9,464.9 535.9,465.0 536.9,465.1 537.9,465.2 538.9,465.3 539.9,465.4 540.9,465.5 541.9,465.6 542.9,465.7 543.9,465.8 544.9,465.9 545.9,466.0 546.9,466.1 547.9,466.2 548.9,466.3 549.9,466.4 550.9,466.5 551.8,466.6 552.8,466.7 553.8,466.8 554.8,466.9 555.8,467.0 556.8,467.1 557.8,467.2 558.8,467.4 559.8,467.5 560.8,467.6 561.8,467.7 562.8,467.9 563.8,468.0 564.8,468.2 565.8,468.3 566.8,468.4 567.7,468.6 568.7,468.7 569.7,468.9 570.7,469.0 571.7,469.2 572.7,469.3 573.7,469.5 574.7,469.6 575.7,469.8 576.7,469.9 577.7,470.1 578.7,470.2 579.6,470.4 580.6,470.5 581.6,470.7 582.6,470.8 583.6,470.9 584.6,471.1 585.6,471.2 586.6,471.4 587.6,471.5 588.6,471.6 589.6,471.7 590.6,471.9 591.6,472.0 592.5,472.1 593.5,472.2 594.5,472.3 595.5,472.4 596.5,472.5 597.5,472.6 598.5,472.7 599.5,472.8 600.5,472.8 601.5,472.9 602.5,473.0 603.5,473.1 604.5,473.2 605.5,473.3 606.5,473.3 607.5,473.4 608.5,473.5 609.5,473.6 610.5,473.6 611.5,473.7 612.5,473.8 613.5,473.9 614.5,473.9 615.5,474.0 616.5,474.1 617.5,474.1 618.5,474.2 619.5,474.3 620.5,474.3 621.5,474.4 622.5,474.5 623.5,474.5 624.5,474.6 625.5,474.6 626.5,474.7 627.5,474.8 628.5,474.8 629.5,474.9 630.5,474.9 631.5,475.0 632.5,475.1 633.5,475.1 634.5,475.2 635.5,475.2 636.5,475.3 637.5,475.4 638.5,475.4 639.5,475.5 640.5,475.5 641.5,475.6 642.5,475.6 643.5,475.7 644.5,475.7 645.5,475.8 646.5,475.9 647.5,475.9 648.5,476.0 649.5,476.0 650.5,476.1 651.5,476.1 652.5,476.2 653.5,476.2 654.5,476.3 655.5,476.3 656.5,476.4 657.5,476.4 658.5,476.5 659.5,476.5 660.5,476.6 661.5,476.6 662.5,476.7 663.5,476.7 664.5,476.8 665.5,476.8 666.5,476.8 667.5,476.9 668.5,476.9 669.5,477.0 670.5,477.0 671.5,477.1 672.5,477.1 673.5,477.1 674.5,477.2 675.5,477.2 676.5,477.3 677.5,477.3 678.5,477.3 679.5,477.4 680.5,477.4 681.5,477.5 682.5,477.5 683.5,477.6 684.5,477.6 685.5,477.7 686.5,477.7 687.5,477.8 688.5,477.8 689.5,477.9 690.5,477.9 691.5,478.0 692.5,478.0 693.5,478.1 694.5,478.2 695.5,478.2 696.5,478.3 697.5,478.4 698.5,478.4 699.5,478.5 700.5,478.6 701.5,478.6 702.5,478.7 703.5,478.8 704.5,478.9 705.5,479.0 706.5,479.1 707.5,479.2 708.5,479.3 709.5,479.4 710.5,479.5 711.5,479.7 712.4,479.8 713.4,479.9 714.4,480.0 715.4,480.2 716.4,480.3 717.4,480.4 718.4,480.6 719.4,480.7 720.4,480.8 721.4,481.0 722.4,481.1 723.4,481.3 724.4,481.4 725.4,481.5 726.4,481.7 727.3,481.8 728.3,482.0 729.3,482.1 730.3,482.2 731.3,482.4 732.3,482.5 733.3,482.6 734.3,482.8 735.3,482.9 736.3,483.0 737.3,483.1 738.3,483.3 739.3,483.4 740.3,483.5 741.3,483.7 742.2,483.8 743.2,483.9 744.2,484.1 745.2,484.2 746.2,484.3 747.2,484.5 748.2,484.6 749.2,484.7 750.2,484.9 751.2,485.0 752.2,485.1 753.2,485.3 754.2,485.4 755.2,485.5 756.1,485.7 757.1,485.8 758.1,485.9 759.1,486.0 760.1,486.2 761.1,486.3 762.1,486.4 763.1,486.5 764.1,486.6 765.1,486.7 766.1,486.8 767.1,487.0 768.1,487.1 769.1,487.2 770.1,487.2 771.1,487.3 772.1,487.4 773.1,487.5 774.1,487.6 775.1,487.7 776.1,487.8 777.1,487.9 778.0,488.0 779.0,488.0 780.0,488.1 781.0,488.2 782.0,488.3 783.0,488.4 784.0,488.4 785.0,488.5 786.0,488.6 787.0,488.7 788.0,488.7 789.0,488.8 790.0,488.9 791.0,489.0 792.0,489.0 793.0,489.1 794.0,489.2 795.0,489.2 796.0,489.3 797.0,489.4 798.0,489.4 799.0,489.5 800.0,489.6 801.0,489.6 802.0,489.7 803.0,489.8 804.0,489.8 805.0,489.9 806.0,489.9 807.0,490.0 808.0,490.1 809.0,490.1 810.0,490.2 811.0,490.3 812.0,490.3 813.0,490.4 814.0,490.5 815.0,490.5 816.0,490.6 817.0,490.6 818.0,490.6 819.0,490.7 820.0,490.7 821.0,490.7 822.0,490.7 823.0,490.7 824.0,490.7 825.0,490.7 826.0,490.6 827.0,490.6 828.0,490.5 829.0,490.4 830.0,490.3 831.0,490.2 832.0,490.1 833.0,490.0 834.0,489.9 835.0,489.8 836.0,489.7 837.0,489.6 838.0,489.5 839.0,489.4 840.0,489.3 841.0,489.2 842.0,489.1 843.0,489.0 844.0,488.9 845.0,488.8 846.0,488.7 847.0,488.7 848.0,488.6 849.0,488.5 850.0,488.4 851.0,488.3 852.0,488.2 853.0,488.0 854.0,487.9 855.0,487.8 856.0,487.7 857.0,487.6 858.0,487.5 859.0,487.3 860.0,487.2 861.0,487.0 861.9,486.9 862.9,486.7 863.9,486.6 864.9,486.4 865.9,486.2 866.8,486.0 867.8,485.8 868.8,485.6 869.8,485.3 870.7,485.1 871.7,484.8 872.7,484.5 873.7,484.1 874.6,483.8 875.6,483.5 876.5,483.1 877.4,482.8 878.4,482.4 879.3,482.0 880.2,481.6 881.0,481.2 881.9,480.4 882.8,480.3 883.6,479.8 884.4,479.7 885.3,479.4 886.1,478.1 886.9,477.3 887.7,476.9 888.5,476.1 889.3,475.4 890.1,475.0 890.9,474.1 891.7,474.0 892.5,473.1 893.3,472.6 894.1,471.8 894.9,471.0 895.7,470.4 896.6,470.0 897.4,469.4 898.2,469.1 899.0,468.4 899.9,467.4 900.7,467.3 901.5,466.3 902.4,466.0 903.2,465.6 904.1,464.4 904.9,464.6 905.7,464.1 906.6,463.4 907.4,462.8 908.3,462.3 909.1,461.5 910.0,461.2 910.8,460.6 911.6,460.3 912.5,459.3 913.3,459.3 914.2,458.7 915.0,458.1 915.9,457.4 916.7,457.3 917.6,456.0 918.4,456.2 919.3,455.6 920.2,455.1 921.0,454.6 921.9,453.7 922.7,453.3 923.6,453.1 924.4,452.5 925.3,451.9 926.2,450.8 927.0,451.0 927.9,450.7 928.8,450.2 929.6,449.4 930.5,448.3 931.4,448.7 932.2,447.8 933.1,446.5 934.0,447.0 934.9,445.9 935.8,445.5 936.7,445.3 937.6,445.5 938.4,444.5 939.3,444.2 940.2,444.3 941.1,443.8 942.0,442.7 942.9,442.3 943.8,441.5 944.7,441.2 945.6,441.2 946.5,440.7 947.4,440.2 948.3,440.1 949.3,439.1 950.2,438.9 951.1,438.7 952.0,438.3 952.9,438.0 953.8,437.4 954.7,436.7 955.6,436.6 956.6,435.7 957.5,435.1 958.4,435.5 959.3,434.9 960.3,434.6 961.2,433.5 962.1,433.6 963.0,433.1 964.0,432.7 964.9,431.8 965.8,432.1 966.7,432.2 967.7,431.6 968.6,430.9 969.5,430.8 970.5,430.7 971.4,429.1 972.4,429.7 973.3,429.6 974.2,429.3 975.2,429.3 976.1,428.7 977.1,428.1 978.0,427.8 979.0,427.6 979.9,426.8 980.8,426.6 981.8,426.6 982.7,426.6 983.6,425.5 984.6,425.2 985.5,424.9 986.4,424.9 987.4,424.0 988.3,424.2 989.2,422.9 990.1,422.8 991.0,422.4 992.0,422.4 992.9,422.1 993.8,420.8 994.7,420.6 995.7,420.6 996.6,419.9 997.5,419.2 998.4,419.7 999.3,419.1 1000.3,418.7 1001.2,418.0 1002.1,418.1 1003.0,417.3 1003.9,417.4 1004.9,416.3 1005.8,415.9 1006.7,415.9 1007.6,415.2 1008.5,415.2 1009.5,414.7 1010.4,413.9 1011.3,413.9 1012.2,413.3 1013.1,413.4 1014.1,412.4 1015.0,412.1 1015.9,412.3 1016.8,412.2 1017.8,411.8 1018.7,410.7 1019.6,410.3 1020.5,410.4 1021.4,409.4 1022.4,408.7 1023.3,408.7 1024.2,408.4 1025.1,407.6 1026.0,406.9 1026.9,406.6 1027.9,406.9 1028.8,406.0 1029.7,405.8 1030.6,405.6 1031.5,405.3 1032.5,404.6 1033.4,404.5 1034.3,403.6 1035.2,403.3 1036.1,402.7 1037.0,403.1 1037.9,402.2 1038.9,401.6 1039.8,401.3 1040.7,401.0 1041.6,400.9 1042.5,399.7 1043.4,399.5 1044.4,399.3 1045.3,399.9 1046.2,398.9 1047.1,398.2 1048.0,398.1 1048.9,398.1 1049.9,396.9 1050.8,396.5 1051.7,396.6 1052.6,396.0 1053.5,395.7 1054.5,394.9 1055.4,395.3 1056.3,394.9 1057.2,394.1 1058.2,393.7 1059.1,392.4 1060.0,393.0 1060.9,392.3 1061.9,392.1 1062.8,391.8 1063.7,391.1 1064.6,390.2 1065.6,390.6 1066.5,389.8 1067.4,389.6 1068.4,389.1 1069.3,388.8 1070.2,387.8 1071.2,388.6 1072.1,387.9 1073.0,387.9 1073.9,387.8 1074.9,386.7 1075.8,385.7 1076.7,385.7 1077.7,385.2 1078.6,385.1 1079.5,384.9 1080.5,383.8 1081.4,384.3 1082.3,383.3 1083.3,383.5 1084.2,383.0 1085.1,382.6 1086.1,382.3 1087.0,381.8 1087.9,381.4 1088.9,380.7 1089.8,380.9 1090.7,381.2 1091.7,380.9 1092.6,380.3 1093.5,379.7 1094.5,378.8 1095.4,379.2 1096.3,378.4 1097.3,378.0 1098.2,377.6 1099.2,377.3 1100.1,376.8 1101.0,376.6 1102.0,375.9 1102.9,375.8 1103.8,376.3 1104.8,375.2 1105.7,374.8 1106.7,374.7 1107.6,374.4 1108.5,373.4 1109.5,373.4 1110.4,373.4 1111.3,372.8 1112.3,372.4 1113.2,372.6 1114.2,371.5 1115.1,371.4 1116.0,370.8 1117.0,371.2 1117.9,369.6 1118.9,369.7 1119.8,369.4 1120.7,369.5 1121.7,369.1 1122.6,369.1 1123.6,367.7 1124.5,368.1 1125.4,367.4 1126.4,366.9 1127.3,367.0 1128.2,366.1 1129.2,365.4 1130.1,365.6 1131.0,364.9 1132.0,364.8 1132.9,364.8 1133.9,364.4 1134.8,364.5 1135.7,363.5 1136.7,362.7 1137.6,362.6 1138.5,362.2 1139.5,361.8 1140.4,362.0 1141.3,361.2 1142.3,360.4 1143.2,361.0 1144.2,360.4 1145.1,360.2 1146.0,359.7 1147.0,359.6 1147.9,359.0 1148.8,359.1 1149.8,358.4 1150.7,358.1 1151.7,357.7 1152.6,356.7 1153.5,356.8 1154.5,356.5 1155.4,356.3 1156.4,355.4 1157.3,356.1 1158.2,355.2 1159.2,354.4 1160.1,353.9 1161.1,354.1 1162.0,353.8 1163.0,353.3 1163.9,353.2 1164.9,352.7 1165.8,352.8 1166.8,352.0 1167.7,351.9 1168.7,352.0 1169.6,352.2 1170.6,350.7 1171.5,350.5 1172.5,350.1 1173.4,350.4 1174.4,349.4 1175.3,349.3 1176.3,349.1 1177.2,348.5 1178.2,348.2 1179.1,348.0 1180.1,347.1 1181.0,347.0 1182.0,347.0 1182.9,346.9 1183.9,346.4 1184.8,345.5 1185.7,345.6 1186.6,345.7 1187.6,345.2 1188.5,344.7 1189.5,344.1 1190.4,344.3 1191.4,343.5 1192.3,343.0 1193.3,342.9 1194.2,343.3 1195.2,342.6 1196.1,342.7 1197.1,341.8 1198.1,342.0 1199.0,341.2 1200.0,341.1 1201.0,341.7 1201.9,340.9 1202.9,340.1 1203.8,340.0 1204.8,339.9 1205.8,339.9 1206.7,339.1 1207.7,338.3 1208.7,338.6 1209.6,338.4 1210.6,338.2 1211.6,338.3 1212.5,337.7 1213.5,337.6 1214.4,336.6 1215.4,337.0 1216.4,337.1 1217.3,336.4 1218.3,335.9 1219.2,335.6 1220.2,335.9 1221.2,334.6 1222.1,334.6 1223.1,334.5 1224.0,334.3 1225.0,333.6 1225.9,333.6 1226.9,333.1 1227.9,332.9 1228.8,332.6 1229.8,331.9 1230.7,332.0 1231.7,332.1 1232.7,331.1 1233.6,331.1 1234.6,331.1 1235.5,330.2 1236.5,330.4 1237.5,329.7 1238.4,330.2 1239.4,330.3 1240.4,329.9 1241.3,328.9 1242.3,329.0 1243.2,328.5 1244.2,328.2 1245.2,328.4 1246.1,327.2 1247.1,327.7 1248.1,327.1 1249.0,327.3 1250.0,326.7 1251.0,326.1 1251.9,326.2 1252.9,326.1 1253.9,325.6 1254.9,325.5 1255.8,324.9 1256.8,324.1 1257.8,324.9 1258.7,324.5 1259.7,324.1 1260.7,323.8 1261.6,323.9 1262.6,323.1 1263.6,322.8 1264.5,322.7 1265.5,323.0 1266.5,321.8 1267.5,322.5 1268.4,321.6 1269.4,321.2 1270.4,321.7 1271.3,321.0 1272.3,320.3 1273.3,320.4 1274.2,320.6 1275.2,320.4 1276.2,319.6 1277.2,319.7 1278.1,319.5 1279.1,318.8 1280.1,318.9 1281.0,318.5 1282.0,318.1 1283.0,317.9 1284.0,317.9 1284.9,317.7 1285.9,317.3 1286.9,317.1 1287.9,317.4 1288.9,316.9 1289.9,317.0 1290.8,316.9 1291.8,316.6 1292.8,317.0 1293.8,315.8" fill="none" stroke="#0f0" stroke-width="4.00" stroke-linejoin="miter" stroke-miterlimit="3" />
<polyline points="1292.8,317.0 1293.8,315.8 1293.9,318.3 1293.9,84.3" fill="none" stroke="#0f0" stroke-width="3.70" stroke-linejoin="miter" stroke-miterlimit="3" />
<path d="M547.0,466.3 L549.4,461.8 L550.8,466.3 Z M568.8,469.0 L571.2,465.0 L572.6,469.0 Z M587.7,471.7 L590.1,467.7 L591.5,471.7 Z M608.6,473.6 L611.0,469.6 L612.4,473.6 Z M650.6,476.2 L653.0,471.2 L654.4,476.2 Z M666.6,476.9 L669.0,472.9 L670.4,476.9 Z M693.6,478.2 L696.0,483.2 L697.4,478.2 Z M698.6,478.6 L701.0,472.6 L702.4,478.6 Z M710.5,479.8 L712.9,473.8 L714.3,479.8 Z M742.3,484.1 L744.7,478.1 L746.1,484.1 Z M748.3,484.9 L750.7,479.9 L752.1,484.9 Z M772.2,487.6 L774.6,481.6 L776.0,487.6 Z M798.1,489.6 L800.5,483.6 L801.9,489.6 Z M801.1,489.8 L803.5,495.8 L804.9,489.8 Z M817.1,490.7 L819.5,484.7 L820.9,490.7 Z M857.1,487.3 L859.5,481.3 L860.9,487.3 Z M768.2,487.2 L770.6,492.2 L772.0,487.2 Z M789.1,489.0 L791.5,484.0 L792.9,489.0 Z M820.1,490.7 L822.5,496.7 L823.9,490.7 Z M838.1,489.3 L840.5,494.3 L841.9,489.3 Z M941.9,441.9 L944.3,434.9 L945.7,441.9 Z M943.7,441.0 L946.1,447.0 L947.5,441.0 Z M957.4,434.9 L959.8,423.9 L961.2,434.9 Z M960.2,433.7 L962.6,443.7 L964.0,433.7 Z M965.8,431.5 L968.2,438.5 L969.6,431.5 Z M968.6,430.4 L971.0,422.4 L972.4,430.4 Z M971.4,429.4 L973.8,435.4 L975.2,429.4 Z M1046.1,397.8 L1048.5,387.8 L1049.9,397.8 Z M1087.9,380.9 L1090.3,390.9 L1091.7,380.9 Z M1132.0,364.3 L1134.4,373.3 L1135.8,364.3 Z M1046.1,397.8 L1048.5,388.8 L1049.9,397.8 Z M1087.9,380.9 L1090.3,390.9 L1091.7,380.9 Z M1132.0,364.3 L1134.4,375.3 L1135.8,364.3 Z M1184.7,345.4 L1187.1,350.4 L1188.5,345.4 Z M1256.8,324.3 L1259.2,319.8 L1260.6,324.3 Z M1286.0,317.1 L1288.4,312.6 L1289.8,317.1 Z M909.7,460.2 L912.1,463.1 L913.5,460.2 Z M925.1,450.8 L927.5,453.9 L928.9,450.8 Z M929.5,448.3 L931.9,451.6 L933.3,448.3 Z M940.1,442.8 L942.5,439.9 L943.9,442.8 Z M954.7,436.1 L957.1,433.0 L958.5,436.1 Z M961.1,433.3 L963.5,436.7 L964.9,433.3 Z M978.9,426.6 L981.3,423.4 L982.7,426.6 Z M1004.8,415.8 L1007.2,418.6 L1008.6,415.8 Z M1014.9,411.5 L1017.3,414.6 L1018.7,411.5 Z M1020.5,409.1 L1022.9,406.1 L1024.3,409.1 Z M1026.9,406.3 L1029.3,409.0 L1030.7,406.3 Z M1049.8,396.2 L1052.2,393.5 L1053.6,396.2 Z M1065.5,389.7 L1067.9,387.0 L1069.3,389.7 Z M1087.0,381.2 L1089.4,378.3 L1090.8,381.2 Z M1094.4,378.4 L1096.8,375.2 L1098.2,378.4 Z M1119.8,368.9 L1122.2,371.9 L1123.6,368.9 Z M1132.0,364.3 L1134.4,361.1 L1135.8,364.3 Z M1189.5,343.7 L1191.9,346.7 L1193.3,343.7 Z M1199.1,340.9 L1201.5,337.7 L1202.9,340.9 Z M1204.8,339.2 L1207.2,335.8 L1208.6,339.2 Z M1224.0,333.5 L1226.4,330.1 L1227.8,333.5 Z M1232.7,330.9 L1235.1,328.1 L1236.5,330.9 Z M1255.9,324.6 L1258.3,321.5 L1259.7,324.6 Z M1260.7,323.3 L1263.1,326.5 L1264.5,323.3 Z M1270.4,320.8 L1272.8,323.5 L1274.2,320.8 Z M1279.1,318.5 L1281.5,321.5 L1282.9,318.5 Z M791.1,489.1 L793.5,491.9 L794.9,489.1 Z M796.1,489.4 L798.5,485.8 L799.9,489.4 Z M800.1,489.7 L802.5,492.9 L803.9,489.7 Z M803.1,489.9 L805.5,493.4 L806.9,489.9 Z M807.1,490.1 L809.5,486.3 L810.9,490.1 Z M816.1,490.6 L818.5,493.6 L819.9,490.6 Z M820.1,490.7 L822.5,487.2 L823.9,490.7 Z M825.1,490.6 L827.5,486.6 L828.9,490.6 Z M834.1,489.7 L836.5,487.0 L837.9,489.7 Z M837.1,489.4 L839.5,486.0 L840.9,489.4 Z M841.1,489.0 L843.5,492.0 L844.9,489.0 Z M851.1,488.0 L853.5,484.1 L854.9,488.0 Z M857.1,487.3 L859.5,484.7 L860.9,487.3 Z" fill="#0f0" stroke="none"/>
<polyline points="246.0,396.4 249.0,396.4 249.0,387.6 249.0,387.6 250.0,387.9 250.9,388.2 251.9,388.5 252.8,388.8 253.8,389.1 254.7,389.4 255.7,389.7 256.6,390.0 257.6,390.3 258.5,390.6 259.5,390.9 260.4,391.2 261.4,391.5 262.4,391.8 263.3,392.1 264.3,392.4 265.2,392.8 266.2,393.1 267.1,393.4 268.1,393.7 269.0,394.0 270.0,394.3 270.9,394.6 271.9,394.9 272.9,395.2 273.8,395.5 274.8,395.8 275.7,396.1 276.7,396.4 277.6,396.7 278.6,397.0 279.5,397.3 280.5,397.6 281.4,397.9 282.4,398.2 283.4,398.5 284.3,398.8 285.3,399.1 286.2,399.4 287.2,399.7 288.1,400.0 289.1,400.3 290.0,400.6 291.0,400.9 292.0,401.2 292.9,401.5 293.9,401.8 294.8,402.1 295.8,402.4 296.7,402.7 297.7,403.0 298.6,403.3 299.6,403.6 300.6,403.9 301.5,404.2 302.5,404.5 303.4,404.8 304.4,405.0 305.3,405.3 306.3,405.6 307.2,405.9 308.2,406.2 309.2,406.5 310.1,406.8 311.1,407.1 312.0,407.4 313.0,407.7 313.9,408.0 314.9,408.3 315.8,408.6 316.8,408.9 317.8,409.2 318.7,409.5 319.7,409.8 320.6,410.1 321.6,410.4 322.5,410.7 323.5,411.0 324.5,411.3 325.4,411.6 326.4,411.9 327.3,412.2 328.3,412.5 329.2,412.7 330.2,413.0 331.2,413.3 332.1,413.6 333.1,413.9 334.0,414.2 335.0,414.5 335.9,414.8 336.9,415.1 337.9,415.4 338.8,415.6 339.8,415.9 340.7,416.2 341.7,416.5 342.7,416.8 343.6,417.1 344.6,417.4 345.5,417.6 346.5,417.9 347.5,418.2 348.4,418.5 349.4,418.8 350.3,419.1 351.3,419.4 352.3,419.6 353.2,419.9 354.2,420.2 355.1,420.5 356.1,420.8 357.1,421.1 358.0,421.4 359.0,421.7 359.9,421.9 360.9,422.2 361.9,422.5 362.8,422.8 363.8,423.1 364.7,423.4 365.7,423.7 366.6,423.9 367.6,424.2 368.6,424.5 369.5,424.8 370.5,425.1 371.4,425.4 372.4,425.7 373.4,426.0 374.3,426.3 375.3,426.6 376.2,426.9 377.2,427.1 378.1,427.4 379.1,427.7 380.1,428.0 381.0,428.3 382.0,428.6 382.9,428.9 383.9,429.2 384.8,429.5 385.8,429.8 386.7,430.1 387.7,430.4 388.7,430.7 389.6,431.0 390.6,431.3 391.5,431.6 392.5,431.9 393.4,432.2 394.4,432.5 395.3,432.8 396.3,433.2 397.2,433.5 398.2,433.8 399.1,434.1 400.1,434.4 401.0,434.7 402.0,435.0 402.9,435.4 403.9,435.7 404.8,436.0 405.8,436.3 406.7,436.7 407.7,437.0 408.6,437.3 409.6,437.6 410.5,438.0 411.4,438.3 412.4,438.6 413.3,438.9 414.3,439.3 415.2,439.6 416.2,439.9 417.1,440.2 418.1,440.6 419.0,440.9 420.0,441.2 420.9,441.5 421.9,441.9 422.8,442.2 423.8,442.5 424.7,442.8 425.7,443.1 426.6,443.5 427.6,443.8 428.5,444.1 429.4,444.4 430.4,444.8 431.3,445.1 432.3,445.4 433.2,445.7 434.2,446.0 435.1,446.4 436.1,446.7 437.0,447.0 438.0,447.3 438.9,447.6 439.9,448.0 440.8,448.3 441.8,448.6 442.7,448.9 443.7,449.2 444.6,449.5 445.6,449.8 446.5,450.1 447.5,450.4 448.5,450.7 449.4,451.0 450.4,451.3 451.3,451.6 452.3,451.9 453.2,452.2 454.2,452.5 455.2,452.8 456.1,453.0 457.1,453.3 458.0,453.6 459.0,453.9 460.0,454.2 460.9,454.5 461.9,454.7 462.8,455.0 463.8,455.3 464.8,455.6 465.7,455.8 466.7,456.1 467.7,456.4 468.6,456.7 469.6,456.9 470.5,457.2 471.5,457.5 472.5,457.8 473.4,458.0 474.4,458.3 475.4,458.6 476.3,458.9 477.3,459.1 478.3,459.4 479.2,459.7 480.2,459.9 481.1,460.2 482.1,460.5 483.1,460.7 484.0,461.0 485.0,461.3 486.0,461.5 486.9,461.8 487.9,462.0 488.9,462.3 489.8,462.6 490.8,462.8 491.8,463.1 492.7,463.4 493.7,463.6 494.7,463.9 495.6,464.1 496.6,464.4 497.6,464.7 498.5,464.9 499.5,465.2 500.5,465.4 501.4,465.7 502.4,465.9 503.4,466.2 504.3,466.5 505.3,466.7 506.3,467.0 507.2,467.2 508.2,467.5 509.2,467.7 510.1,468.0 511.1,468.2 512.1,468.5 513.1,468.7 514.0,469.0 515.0,469.2 516.0,469.5 516.9,469.8 517.9,470.0 518.9,470.2 519.8,470.5 520.8,470.7 521.8,471.0 522.7,471.2 523.7,471.5 524.7,471.7 525.7,472.0 526.6,472.2 527.6,472.5 528.6,472.7 529.6,472.9 530.5,473.2 531.5,473.4 532.5,473.6 533.5,473.8 534.4,474.1 535.4,474.3 536.4,474.5 537.4,474.7 538.3,475.0 539.3,475.2 540.3,475.4 541.3,475.6 542.2,475.9 543.2,476.1 544.2,476.3 545.2,476.5 546.1,476.8 547.1,477.0 548.1,477.2 549.1,477.5 550.0,477.7 551.0,478.0 552.0,478.2 552.9,478.5 553.9,478.7 554.9,479.0 555.8,479.3 556.8,479.5 557.7,479.8 558.7,480.1 559.6,480.4 560.6,480.7 561.6,481.0 562.5,481.4 563.4,481.7 564.4,482.0 565.3,482.3 566.3,482.7 567.2,483.0 568.2,483.4 569.1,483.7 570.1,484.0 571.0,484.4 572.0,484.7 572.9,485.0 573.8,485.4 574.8,485.7 575.7,486.0 576.7,486.3 577.6,486.6 578.6,486.9 579.6,487.2 580.5,487.5 581.5,487.8 582.4,488.1 583.4,488.4 584.3,488.7 585.3,489.0 586.3,489.2 587.2,489.5 588.2,489.8 589.1,490.1 590.1,490.4 591.1,490.6 592.0,490.9 593.0,491.2 594.0,491.5 594.9,491.7 595.9,492.0 596.9,492.3 597.8,492.5 598.8,492.8 599.8,493.1 600.7,493.3 601.7,493.6 602.7,493.8 603.6,494.1 604.6,494.3 605.6,494.6 606.5,494.8 607.5,495.1 608.5,495.3 609.4,495.6 610.4,495.8 611.4,496.1 612.4,496.3 613.3,496.6 614.3,496.8 615.3,497.0 616.2,497.3 617.2,497.5 618.2,497.7 619.2,498.0 620.1,498.2 621.1,498.4 622.1,498.6 623.1,498.8 624.0,499.1 625.0,499.3 626.0,499.5 627.0,499.7 628.0,499.9 628.9,500.2 629.9,500.4 630.9,500.6 631.9,500.8 632.8,501.0 633.8,501.2 634.8,501.4 635.8,501.6 636.8,501.8 637.8,502.0 638.7,502.2 639.7,502.4 640.7,502.6 641.7,502.8 642.7,503.0 643.6,503.2 644.6,503.4 645.6,503.6 646.6,503.7 647.6,503.9 648.6,504.1 649.5,504.3 650.5,504.5 651.5,504.7 652.5,504.9 653.5,505.0 654.5,505.2 655.5,505.4 656.4,505.6 657.4,505.7 658.4,505.9 659.4,506.1 660.4,506.2 661.4,506.4 662.4,506.6 663.3,506.7 664.3,506.9 665.3,507.0 666.3,507.2 667.3,507.3 668.3,507.5 669.3,507.7 670.3,507.8 671.3,508.0 672.3,508.1 673.2,508.3 674.2,508.4 675.2,508.6 676.2,508.7 677.2,508.9 678.2,509.0 679.2,509.2 680.2,509.3 681.2,509.5 682.2,509.6 683.2,509.7 684.2,509.9 685.1,510.0 686.1,510.1 687.1,510.2 688.1,510.3 689.1,510.4 690.1,510.5 691.1,510.6 692.1,510.6 693.1,510.7 694.1,510.8 695.1,510.8 696.1,510.9 697.1,511.0 698.1,511.0 699.1,511.1 700.1,511.1 701.1,511.2 702.1,511.2 703.1,511.3 704.1,511.3 705.1,511.4 706.1,511.4 707.1,511.4 708.1,511.5 709.1,511.5 710.1,511.6 711.1,511.6 712.1,511.6 713.1,511.7 714.1,511.7 715.1,511.8 716.1,511.8 717.1,511.8 718.1,511.9 719.1,511.9 720.1,511.9 721.1,512.0 722.1,512.0 723.1,512.1 724.1,512.1 725.1,512.1 726.1,512.2 727.1,512.2 728.1,512.2 729.1,512.3 730.1,512.3 731.1,512.3 732.1,512.3 733.1,512.4 734.1,512.4 735.1,512.4 736.1,512.4 737.1,512.4 738.1,512.4 739.1,512.3 740.1,512.3 741.1,512.3 742.1,512.2 743.1,512.2 744.1,512.1 745.1,512.1 746.1,512.0 747.1,511.9 748.1,511.9 749.1,511.8 750.1,511.7 751.1,511.6 752.1,511.6 753.1,511.5 754.1,511.4 755.1,511.3 756.1,511.3 757.1,511.2 758.1,511.1 759.1,511.0 760.1,510.8 761.1,510.7 762.1,510.6 763.1,510.5 764.1,510.4 765.1,510.2 766.1,510.1 767.0,509.9 768.0,509.8 769.0,509.7 770.0,509.5 771.0,509.3 772.0,509.2 773.0,509.0 774.0,508.9 775.0,508.7 776.0,508.5 776.9,508.4 777.9,508.2 778.9,508.0 779.9,507.9 780.9,507.7 781.9,507.5 782.8,507.3 783.8,507.1 784.8,506.9 785.8,506.7 786.8,506.5 787.7,506.3 788.7,506.0 789.7,505.8 790.7,505.6 791.6,505.3 792.6,505.1 793.6,504.9 794.5,504.6 795.5,504.4 796.5,504.1 797.5,503.9 798.4,503.6 799.4,503.4 800.4,503.1 801.3,502.9 802.3,502.6 803.3,502.4 804.3,502.1 805.2,501.9 806.2,501.7 807.2,501.4 808.1,501.2 809.1,500.9 810.1,500.7 811.0,500.4 812.0,500.1 813.0,499.9 813.9,499.6 814.9,499.4 815.9,499.1 816.8,498.8 817.8,498.6 818.8,498.3 819.7,498.0 820.7,497.8 821.7,497.5 822.6,497.2 823.6,497.0 824.6,496.7 825.5,496.5 826.5,496.2 827.5,495.9 828.4,495.7 829.4,495.4 830.4,495.2 831.3,494.9 832.3,494.7 833.3,494.4 834.3,494.2 835.2,493.9 836.2,493.6 837.2,493.4 838.1,493.1 839.1,492.9 840.1,492.6 841.0,492.4 842.0,492.1 843.0,491.9 844.0,491.6 844.9,491.4 845.9,491.2 846.9,491.0 847.9,490.8 848.8,490.6 849.8,490.4 850.8,490.2 851.8,490.1 852.8,489.9 853.8,489.8 854.8,489.6 855.7,489.4 856.7,489.3 857.7,489.1 858.7,489.0 859.7,488.9 860.7,488.7 861.7,488.6 862.7,488.4 863.7,488.3 864.7,488.2 865.7,488.0 866.7,487.9 867.6,487.8 868.6,487.6 869.6,487.5 870.6,487.4 871.6,487.3 872.6,487.1 873.6,487.0 874.6,486.9 875.6,486.8 876.6,486.7 877.6,486.6 878.6,486.4 879.6,486.3 880.6,486.2 881.6,486.1 882.6,486.0 883.6,485.9 884.6,485.8 885.5,485.7 886.5,485.6 887.5,485.5 888.5,485.4 889.5,485.3 890.5,485.2 891.5,485.1 892.5,485.0 893.5,484.9 894.5,484.8 895.5,484.7 896.5,484.6 897.5,484.5 898.5,484.4 899.5,484.4 900.5,484.3 901.5,484.2 902.5,484.1 903.5,484.1 904.5,484.0 905.5,483.9 906.5,483.9 907.5,483.8 908.5,483.8 909.5,483.8 910.5,483.7 911.5,483.7 912.5,483.6 913.5,483.6 914.5,483.6 915.5,483.5 916.5,483.5 917.5,483.4 918.5,483.4 919.5,483.4 920.5,483.3 921.5,483.3 922.5,483.3 923.5,483.3 924.5,483.2 925.5,483.2 926.5,483.2 927.5,483.1 928.5,483.1 929.5,483.1 930.5,483.1 931.5,483.1 932.5,483.0 933.5,483.0 934.5,483.0 935.5,483.0 936.5,483.0 937.5,483.0 938.5,483.0 939.5,482.9 940.5,482.9 941.5,482.9 942.5,482.9 943.5,482.9 944.5,482.9 945.5,482.9 946.5,483.0 947.5,483.0 948.5,483.0 949.5,483.0 950.5,483.0 951.5,483.1 952.5,483.1 953.5,483.1 954.5,483.2 955.5,483.2 956.5,483.2 957.5,483.3 958.5,483.3 959.5,483.4 960.5,483.4 961.5,483.4 962.5,483.5 963.5,483.5 964.5,483.6 965.5,483.6 966.5,483.7 967.5,483.7 968.5,483.8 969.5,483.8 970.5,483.9 971.5,483.9 972.5,484.0 973.5,484.1 974.5,484.2 975.5,484.3 976.5,484.4 977.5,484.5 978.5,484.6 979.5,484.7 980.5,484.8 981.5,484.9 982.5,485.0 983.5,485.1 984.5,485.2 985.5,485.4 986.5,485.5 987.5,485.6 988.5,485.7 989.4,485.8 990.4,486.0 991.4,486.1 992.4,486.2 993.4,486.3 994.4,486.4 995.4,486.5 996.4,486.6 997.4,486.7 998.4,486.8 999.4,486.9 1000.4,487.0 1001.4,487.1 1002.4,487.2 1003.4,487.2 1004.4,487.3 1005.4,487.4 1006.4,487.4 1007.4,487.5 1008.4,487.6 1009.4,487.6 1010.4,487.7 1011.4,487.7 1012.4,487.8 1013.4,487.8 1014.4,487.9 1015.4,488.0 1016.4,488.0 1017.4,488.1 1018.4,488.1 1019.4,488.2 1020.4,488.2 1021.4,488.2 1022.4,488.3 1023.4,488.3 1024.4,488.4 1025.4,488.4 1026.4,488.5 1027.4,488.5 1028.4,488.6 1029.4,488.6 1030.4,488.7 1031.4,488.7 1032.4,488.7 1033.4,488.8 1034.4,488.8 1035.4,488.9 1036.4,488.9 1037.4,489.0 1038.4,489.0 1039.4,489.0 1040.4,489.1 1041.4,489.1 1042.4,489.2 1043.4,489.2 1044.4,489.3 1045.4,489.3 1046.4,489.4 1047.4,489.4 1048.4,489.5 1049.4,489.5 1050.4,489.5 1051.4,489.6 1052.4,489.6 1053.4,489.7 1054.4,489.7 1055.4,489.8 1056.4,489.8 1057.4,489.8 1058.4,489.9 1059.4,489.9 1060.4,490.0 1061.4,490.0 1062.4,490.0 1063.4,490.1 1064.4,490.1 1065.4,490.1 1066.4,490.2 1067.4,490.2 1068.4,490.2 1069.4,490.3 1070.4,490.3 1071.4,490.3 1072.4,490.4 1073.4,490.4 1074.4,490.4 1075.4,490.4 1076.4,490.5 1077.4,490.5 1078.4,490.5 1079.4,490.6 1080.4,490.6 1081.4,490.6 1082.4,490.6 1083.4,490.7 1084.4,490.7 1085.4,490.7 1086.4,490.7 1087.4,490.8 1088.4,490.8 1089.4,490.8 1090.4,490.8 1091.4,490.9 1092.4,490.9 1093.4,490.9 1094.4,490.9 1095.4,491.0 1096.4,491.0 1097.4,491.0 1098.4,491.0 1099.4,491.0 1100.4,491.0 1101.4,491.0 1102.4,491.1 1103.4,491.1 1104.4,491.1 1105.4,491.1 1106.4,491.1 1107.4,491.1 1108.4,491.1 1109.4,491.1 1110.4,491.1 1111.4,491.1 1112.4,491.1 1113.4,491.1 1114.4,491.1 1115.4,491.1 1116.4,491.1 1117.4,491.1 1118.4,491.1 1119.4,491.1 1120.4,491.1 1121.5,491.1 1122.5,491.1 1123.5,491.1 1124.5,491.1 1125.5,491.1 1126.5,491.1 1127.5,491.1 1128.5,491.1 1129.5,491.1 1130.5,491.1 1131.5,491.1 1132.5,491.1 1133.5,491.1 1134.5,491.1 1135.5,491.1 1136.5,491.1 1137.5,491.1 1138.5,491.1 1139.5,491.1 1140.5,491.1 1141.5,491.1 1142.5,491.1 1143.5,491.1 1144.5,491.0 1145.5,491.0 1146.5,490.9 1147.4,490.8 1148.4,490.7 1149.4,490.6 1150.4,490.4 1151.4,490.3 1152.4,490.2 1153.4,490.0 1154.4,489.8 1155.4,489.7 1156.4,489.5 1157.4,489.4 1158.4,489.2 1159.4,489.0 1160.3,488.9 1161.3,488.7 1162.3,488.4 1163.3,488.2 1164.2,488.0 1165.2,487.7 1166.2,487.5 1167.1,487.2 1168.1,486.9 1169.1,486.7 1170.0,486.4 1171.0,486.1 1172.0,485.9 1173.0,485.6 1173.9,485.4 1174.9,485.2 1175.9,485.0 1176.9,484.8 1177.9,484.6 1178.8,484.4 1179.8,484.2 1180.8,483.1 1181.8,483.4 1182.8,483.4 1183.7,483.2 1184.7,483.1 1185.6,482.8 1186.6,482.4 1187.5,482.5 1188.5,481.0 1189.4,481.4 1190.3,480.8 1191.2,480.7 1192.2,480.3 1193.1,479.5 1194.0,479.1 1194.9,479.2 1195.8,478.7 1196.7,477.9 1197.7,478.5 1198.6,478.2 1199.5,476.5 1200.5,476.7 1201.4,477.2 1202.4,476.3 1203.3,475.8 1204.3,475.3 1205.2,474.9 1206.2,474.8 1207.1,474.4 1208.1,474.5 1209.1,473.9 1210.0,473.6 1211.0,473.0 1212.0,473.2 1213.0,472.7 1213.9,472.7 1214.9,472.9 1215.9,472.5 1216.9,472.3 1217.9,472.1 1218.9,471.8 1219.8,471.6 1220.8,471.4 1221.8,471.6 1222.8,470.8 1223.8,471.5 1224.8,471.0 1225.8,470.5 1226.8,470.5 1227.8,470.3 1228.8,470.5 1229.8,470.1 1230.8,470.6 1231.8,469.9 1232.8,469.3 1233.8,469.8 1234.8,469.3 1235.8,469.9 1236.8,470.3 1237.8,470.2 1238.8,469.5 1239.8,469.7 1240.8,470.7 1241.8,470.2 1242.8,470.2 1243.8,470.6 1244.8,471.2 1245.8,470.9 1246.8,470.6 1247.8,470.8 1248.8,471.1 1249.8,470.8 1250.8,470.8 1251.8,471.3 1252.8,471.1 1253.7,471.6 1254.7,471.8 1255.6,472.7 1256.6,471.8 1257.6,472.4 1258.5,472.6 1259.5,473.1 1260.4,473.7 1261.4,473.5 1262.3,473.8 1263.3,473.9 1264.2,474.5 1265.1,475.5 1266.1,475.8 1267.0,475.8 1267.9,476.5 1268.8,477.1 1269.7,477.7 1270.6,477.8 1271.4,478.4 1272.3,478.3 1273.1,479.0 1274.0,480.5 1274.8,479.7 1275.7,480.9 1276.5,481.7 1277.4,482.0 1278.2,482.5 1279.0,483.4 1279.8,484.0 1280.6,484.6 1281.4,484.6 1282.2,485.9 1282.9,486.3 1283.7,487.1 1284.4,488.0 1285.1,488.8 1285.8,489.6 1286.5,489.8 1287.1,491.1 1287.8,491.9 1288.4,492.6 1289.1,493.5 1289.7,493.8 1290.3,494.2 1290.9,496.2 1291.5,495.4 1292.1,497.0 1292.7,498.6 1293.3,498.8 1293.8,499.0 1294.4,501.1 1294.9,501.4 1295.4,502.1 1296.0,503.7 1296.5,503.3 1297.0,505.1 1297.4,505.8 1297.9,506.3 1298.4,506.9 1298.9,508.5 1299.3,509.7 1299.8,509.5 1300.2,510.6 1300.7,510.6 1301.1,512.0 1301.5,513.0 1301.9,514.9 1302.4,515.7 1302.8,515.3 1303.2,517.8 1303.6,518.5 1304.0,518.7 1304.5,519.1 1304.9,520.3 1305.3,522.1 1305.7,522.5 1306.0,524.1 1306.4,525.5 1306.8,526.4 1307.2,527.6 1307.6,527.5 1307.9,527.3 1308.3,529.6 1308.7,530.4 1309.1,531.4 1309.6,532.3 1310.0,533.3 1310.4,534.1 1310.9,536.0 1311.4,536.4 1312.1,536.4 1313.1,536.3 1313.7,535.8 1314.1,535.2 1314.5,532.7 1314.8,533.2 1315.1,531.4 1315.3,530.5 1315.6,529.4 1316.0,528.7 1316.3,528.2 1316.6,526.0 1316.9,525.7 1317.2,524.1 1317.5,523.1 1317.8,523.7 1318.1,522.0 1318.4,520.9 1318.6,519.6 1318.9,518.8 1319.2,517.9 1319.5,517.8 1319.8,515.9 1320.1,515.0 1320.4,514.3 1320.7,512.6 1321.0,513.1 1321.4,510.8 1321.7,509.7 1322.0,509.6 1322.4,508.6 1322.7,507.5 1323.1,506.2 1323.5,506.7 1323.9,504.9 1324.2,504.0 1324.6,503.2 1325.0,501.8 1325.4,501.5 1325.9,500.4 1326.3,499.2 1326.7,498.5 1327.2,497.9 1327.6,497.0 1328.1,495.1 1328.5,494.2 1329.0,493.2 1329.5,493.7 1330.0,491.4 1330.6,491.5 1331.1,490.6 1331.7,489.9 1332.2,489.1 1332.8,487.6 1333.4,488.0 1334.0,487.0 1334.7,485.8 1335.3,484.5 1335.9,484.9 1336.5,483.9 1337.2,481.8 1337.8,481.9 1338.5,480.7 1339.1,480.8 1339.8,479.7 1340.5,479.6 1341.1,477.8 1341.8,476.9 1342.5,476.4 1343.3,476.4 1344.0,475.1 1344.7,474.4 1345.4,473.2 1346.2,473.3 1346.9,471.9 1347.6,472.0 1348.4,470.4 1349.1,470.5 1349.9,469.1 1350.7,469.4 1351.4,468.7 1352.2,467.6 1353.0,466.8 1353.8,466.2 1354.6,467.0 1355.4,465.4 1356.2,465.0 1357.0,464.4 1357.9,464.0 1358.7,462.3 1359.5,462.9 1360.4,461.0 1361.2,461.6 1362.0,460.9 1362.9,460.5 1363.7,460.0 1364.6,459.2 1365.5,457.7 1366.3,458.0 1367.2,457.8 1368.0,456.8 1368.9,456.7 1369.8,456.3 1370.6,455.1 1371.5,454.2 1372.4,455.0 1373.3,454.4 1374.2,453.6 1375.1,453.0 1376.0,453.4 1376.9,451.8 1377.8,451.1 1378.7,452.0 1379.6,450.6 1380.5,450.2 1381.4,451.4 1382.4,449.6 1383.3,449.1 1384.2,449.0 1385.1,449.3 1386.0,448.3 1386.9,447.5 1387.8,446.9 1388.8,448.1 1389.7,447.3 1390.6,445.7 1391.5,446.2 1392.5,446.2 1393.4,444.9 1394.3,445.6 1395.3,445.3 1396.2,443.7 1397.1,443.0 1398.1,442.8 1399.0,443.5 1400.0,443.4 1400.9,442.9 1401.8,443.1 1402.8,440.5 1403.7,441.5 1404.7,441.6 1405.6,440.6 1406.6,440.2 1407.5,439.6 1408.5,440.2 1409.5,439.2 1410.4,438.0 1411.4,440.3 1412.3,438.7 1413.3,438.8 1414.3,437.2 1415.2,438.0 1416.2,438.5 1417.2,437.2 1418.1,437.1 1419.1,436.9 1420.1,436.6 1421.1,435.9 1422.1,435.3 1423.0,436.9 1424.0,436.2 1425.0,435.9 1426.0,434.9 1427.0,435.8 1428.0,436.3 1429.0,436.0 1430.0,435.7 1431.0,435.3 1432.0,434.5 1433.0,435.0 1434.0,434.2 1435.0,434.6 1435.9,433.3 1436.9,434.8 1437.9,435.4 1438.9,433.4 1439.9,433.6 1440.9,433.9 1441.9,433.2 1442.9,432.4 1443.9,434.7 1444.9,434.6 1445.9,433.6 1446.9,434.3 1447.9,433.9 1448.9,433.1 1449.9,433.9 1450.9,433.2 1451.9,433.3 1452.9,434.0 1453.9,433.2 1454.9,433.4 1456.0,433.9 1457.0,434.1 1458.0,433.8 1459.0,434.3 1459.9,434.1 1460.9,435.0 1461.9,434.5 1462.9,434.8 1463.9,434.0 1464.9,434.4 1465.8,434.7 1466.8,435.8 1467.8,436.1 1468.8,436.4 1469.7,436.4 1470.7,436.0 1471.6,437.3 1472.6,436.7 1473.5,436.2 1474.4,439.0 1475.4,438.2 1476.2,438.5 1477.1,439.3 1478.0,439.3 1478.9,439.8 1479.8,439.5 1480.7,441.8 1481.5,441.3 1482.4,443.1 1483.2,443.7 1484.0,443.4 1484.8,444.5 1485.5,445.1 1486.3,446.4 1487.0,445.1 1487.6,446.3 1488.3,448.5 1488.9,448.2 1489.6,450.2 1490.2,449.7 1490.8,450.6 1491.4,450.9 1491.9,453.2 1492.5,452.8 1493.0,453.4 1493.6,455.2 1494.1,455.7 1494.6,457.3 1495.0,457.6 1495.5,458.5 1496.0,460.0 1496.4,462.0 1496.8,461.5 1497.3,462.6 1497.7,463.2 1498.1,463.5 1498.4,464.6 1498.8,465.5 1499.2,466.2 1499.5,468.1 1499.9,468.3 1500.2,470.0 1500.5,470.9 1500.8,471.0 1501.1,472.7 1501.4,473.5 1501.7,475.2 1502.0,475.9 1502.2,477.0 1502.5,477.6 1502.8,478.2 1503.0,480.3 1503.3,479.0 1503.5,481.9 1503.7,482.8 1504.0,483.1 1504.2,484.9 1504.5,485.8 1504.7,484.5 1504.9,487.2 1505.2,487.0 1505.4,489.2 1505.7,490.8 1505.9,490.6 1506.2,491.9 1506.4,492.9 1506.7,493.5 1506.9,495.8 1507.2,496.7 1507.4,496.5 1507.7,498.3 1507.9,498.2 1508.1,500.0 1508.4,501.3 1508.6,501.3 1508.8,502.4 1509.0,504.3 1509.2,503.7 1509.4,505.9 1509.5,507.2 1509.7,506.9 1509.9,509.2 1510.0,509.3 1510.1,510.8 1510.2,512.2 1510.3,513.1 1510.4,513.6 1510.5,515.0 1510.5,515.7 1510.6,518.0 1510.6,516.5 1510.7,519.6 1510.7,519.2 1510.8,520.9 1510.9,521.4 1510.9,521.1 1511.0,523.7 1511.1,524.1 1511.2,525.8 1511.4,526.6 1511.5,527.8 1511.7,528.2 1512.1,529.8 1512.6,529.4 1512.8,529.7 1513.1,528.8 1513.3,528.1 1513.5,527.9 1513.6,527.5 1513.8,526.0 1513.9,525.1 1514.0,523.8 1514.1,523.0 1514.2,522.4 1514.3,521.4 1514.4,519.0 1514.5,516.7 1514.6,515.7 1514.7,514.7 1514.8,514.5 1514.9,512.3 1515.0,511.3 1515.1,510.2 1515.3,508.9 1515.4,508.6 1515.6,507.4 1515.7,506.1 1515.9,505.2 1516.1,505.3 1516.2,503.3 1516.4,502.0 1516.5,501.7 1516.7,500.1 1516.8,499.6 1517.0,500.0 1517.2,497.3 1517.3,496.7 1517.5,495.7 1517.7,494.0 1517.9,492.8 1518.0,492.5 1518.2,491.2 1518.4,491.4 1518.6,488.2 1518.8,488.7 1519.0,487.9 1519.2,486.5 1519.4,485.4 1519.6,485.4 1519.8,483.4 1520.0,482.9 1520.2,482.6 1520.4,479.7 1520.6,480.4 1520.8,480.3 1521.1,478.2 1521.3,477.3 1521.5,475.4 1521.8,475.3 1522.0,472.9 1522.3,472.5 1522.5,472.2 1522.8,470.4 1523.0,469.8 1523.3,468.0 1523.5,468.3 1523.8,467.0 1524.1,466.0 1524.4,465.2 1524.7,465.0 1525.0,462.9 1525.3,462.6 1525.6,461.3 1525.9,460.9 1526.2,460.5 1526.5,458.5 1526.8,457.5 1527.2,456.9 1527.5,456.0 1527.9,454.4 1528.2,455.0 1528.6,453.5 1528.9,452.2 1529.3,451.1 1529.7,450.3 1530.0,449.8 1530.4,448.7 1530.8,447.8 1531.2,446.2 1531.6,445.1 1532.0,444.7 1532.4,443.9 1532.8,442.5 1533.3,441.9 1533.7,440.7 1534.1,441.3 1534.6,440.2 1535.0,438.8 1535.5,437.4 1536.0,436.3 1536.5,435.6 1537.0,434.9 1537.5,432.7 1538.0,433.0 1538.6,432.3 1539.1,431.2 1539.7,430.2 1540.4,430.0 1541.0,429.2 1541.6,428.4 1542.3,427.3 1542.9,426.8 1543.6,426.2 1544.3,425.1 1545.0,424.1 1545.7,423.4 1546.4,423.5 1547.1,423.2 1547.8,422.0 1548.5,420.8 1549.3,420.5 1550.0,419.4 1550.7,419.4 1551.5,417.7 1552.3,416.9 1553.1,417.0 1553.8,416.5 1554.6,415.3 1555.4,415.7 1556.2,415.1 1557.0,413.0 1557.8,413.9 1558.6,411.9 1559.3,412.4 1560.1,411.2 1560.9,410.1 1561.6,409.6 1562.4,408.9 1563.2,409.0 1564.0,408.6 1564.7,407.9 1565.5,406.4 1566.3,404.4 1567.0,405.5 1567.8,404.4 1568.6,403.9 1569.4,404.8 1570.2,403.2 1571.0,402.2 1571.8,402.0 1572.5,401.7 1573.3,400.7 1574.1,400.3 1575.0,399.2 1575.8,400.0 1576.6,398.9 1577.4,398.3 1578.2,397.7 1579.0,396.8 1579.8,396.1 1580.7,395.4 1581.5,395.3 1582.3,394.8 1583.1,393.1 1584.0,393.2 1584.8,393.6 1585.6,392.1 1586.5,390.7 1587.3,391.7 1588.1,391.2 1588.9,389.9 1589.8,389.2 1590.6,389.0 1591.4,388.6 1592.3,387.7 1593.1,387.4 1593.9,385.3 1594.8,385.7 1595.6,385.6 1596.4,385.4 1597.3,383.9 1598.1,383.1 1599.0,383.4 1599.8,382.3 1600.6,381.3 1601.5,382.0 1602.3,381.3 1603.2,382.3 1604.0,381.0 1604.9,379.0 1605.7,378.0 1606.6,377.3 1607.4,378.0 1608.3,377.6 1609.1,377.7 1610.0,376.3 1610.8,376.0 1611.7,374.9 1612.5,374.6 1613.4,375.2 1614.2,373.0 1615.1,373.8 1615.9,372.1 1616.8,372.7 1617.7,372.5 1618.5,372.1 1619.4,370.3 1620.2,369.8 1621.1,369.6 1622.0,369.6 1622.8,368.4 1623.7,368.1 1624.6,367.8 1625.4,367.5 1626.3,366.3 1627.2,365.9 1628.1,365.3 1628.9,365.0 1629.8,365.1 1630.7,364.4 1631.6,364.1 1632.4,362.5 1633.3,362.2 1634.2,362.9 1635.1,361.4 1635.9,361.9 1636.8,360.8 1637.7,359.2 1638.6,359.7 1639.5,358.8 1640.4,357.8 1641.2,358.3 1642.1,358.1 1643.0,357.3 1643.9,356.7 1644.8,355.9 1645.7,355.8 1646.6,355.2 1647.4,355.3 1648.3,354.2 1649.2,354.5 1650.1,353.2 1651.0,352.5 1651.9,353.2 1652.8,352.6 1653.7,351.4 1654.6,352.0 1655.6,351.2 1656.5,352.1 1657.4,350.5 1658.4,350.8 1659.3,349.9 1660.3,348.7" fill="none" stroke="#00f" stroke-width="4.00" stroke-linejoin="miter" stroke-miterlimit="3" />
<polyline points="1659.3,349.9 1660.3,348.7 1660.4,351.0 1660.4,191.7" fill="none" stroke="#00f" stroke-width="3.70" stroke-linejoin="miter" stroke-miterlimit="3" />
<path d="M641.7,503.2 L644.1,491.2 L645.5,503.2 Z M641.7,503.2 L644.1,512.2 L645.5,503.2 Z M658.5,506.2 L660.9,514.2 L662.3,506.2 Z M667.4,507.7 L669.8,519.7 L671.2,507.7 Z M687.2,510.4 L689.6,523.4 L691.0,510.4 Z M731.2,512.4 L733.6,522.4 L735.0,512.4 Z M742.2,512.1 L744.6,522.1 L746.0,512.1 Z M812.0,499.6 L814.4,488.6 L815.8,499.6 Z M821.7,497.0 L824.1,510.0 L825.5,497.0 Z M834.3,493.6 L836.7,504.6 L838.1,493.6 Z M838.2,492.6 L840.6,502.6 L842.0,492.6 Z M631.9,501.2 L634.3,506.2 L635.7,501.2 Z M702.2,511.3 L704.6,507.3 L706.0,511.3 Z M716.2,511.9 L718.6,507.9 L720.0,511.9 Z M758.2,510.8 L760.6,506.8 L762.0,510.8 Z M878.7,486.2 L881.1,477.2 L882.5,486.2 Z M1167.2,486.7 L1169.6,499.7 L1171.0,486.7 Z M1172.0,485.4 L1174.4,497.4 L1175.8,485.4 Z M892.6,484.8 L895.0,480.8 L896.4,484.8 Z M912.6,483.6 L915.0,488.1 L916.4,483.6 Z M948.6,483.0 L951.0,487.5 L952.4,483.0 Z M1064.5,490.2 L1066.9,494.7 L1068.3,490.2 Z M1190.3,480.2 L1192.7,492.2 L1194.1,480.2 Z M1211.1,473.0 L1213.5,459.0 L1214.9,473.0 Z M1231.9,470.0 L1234.3,480.0 L1235.7,470.0 Z M440.8,448.9 L443.2,443.9 L444.6,448.9 Z M790.7,505.1 L793.1,507.9 L794.5,505.1 Z M795.6,503.9 L798.0,507.3 L799.4,503.9 Z M823.6,496.5 L826.0,493.6 L827.4,496.5 Z M828.5,495.2 L830.9,498.7 L832.3,495.2 Z M837.2,492.9 L839.6,496.2 L841.0,492.9 Z M842.1,491.6 L844.5,488.7 L845.9,491.6 Z M845.0,491.0 L847.4,494.0 L848.8,491.0 Z M846.9,490.6 L849.3,487.6 L850.7,490.6 Z M857.8,488.9 L860.2,492.3 L861.6,488.9 Z M862.8,488.2 L865.2,485.0 L866.6,488.2 Z M866.7,487.6 L869.1,491.1 L870.5,487.6 Z" fill="#00f" stroke="none"/>
</g>
<g clip-path="url(#c2)">
<polyline points="328.0,582.3 328.1,584.3 328.3,586.4 328.4,588.4 328.6,590.4 328.7,592.5 328.8,594.5 329.0,596.5 329.1,598.6 329.3,600.6 329.4,602.6 329.6,604.6 329.7,606.7 329.9,608.7 330.1,610.7 330.2,612.7 330.4,614.7 330.5,616.8 330.7,618.8 330.9,620.8 331.0,622.8 331.2,624.8 331.4,626.8 331.6,628.8 331.7,630.8 331.9,632.9 332.1,634.9 332.3,636.9 332.5,638.9 332.6,640.9 332.8,642.9 333.0,644.9 333.2,646.9 333.4,648.9 333.6,650.9 333.8,652.9 334.0,654.9 334.2,656.9 334.4,658.9 334.6,660.9 334.8,662.9 335.0,664.9 335.2,666.8 335.5,668.8 335.7,670.8 335.9,672.8 336.1,674.8 336.3,676.8 336.6,678.8 336.8,680.8 337.0,682.8 337.3,684.7 337.5,686.7 337.7,688.7 338.0,690.7 338.2,692.7 338.4,694.7 338.7,696.6 338.9,698.6 339.2,700.6 339.4,702.6 339.7,704.6 340.0,706.5 340.2,708.5 340.5,710.5 340.7,712.5 341.0,714.5 341.3,716.4 341.6,718.4 341.8,720.4 342.1,722.4 342.4,724.3 342.7,726.3 343.0,728.3 343.2,730.3 343.5,732.2 343.8,734.2 344.1,736.2 344.4,738.2 344.7,740.1 345.0,742.1 345.3,744.1 345.6,746.0 346.0,748.0 346.3,750.0 346.6,751.9 346.9,753.9 347.2,755.9 347.6,757.9 347.9,759.8 348.2,761.8 348.6,763.8 348.9,765.7 349.2,767.7 349.6,769.7 349.9,771.6 350.3,773.6 350.6,775.6 351.0,777.5 351.3,779.5 351.7,781.5 352.1,783.5 352.4,785.4 352.8,787.4 353.2,789.4 353.5,791.3 353.9,793.3 354.3,795.3 354.7,797.2 355.1,799.2 355.5,801.2 355.9,803.1 356.3,805.1 356.7,807.1 357.1,809.0 357.5,811.0 357.9,813.0 358.3,814.9 358.7,816.9 359.1,818.9 359.5,820.9 360.0,822.8 360.4,824.8 360.8,826.8 361.3,828.7 361.7,830.7 362.2,832.7 362.6,834.7 363.0,836.6 363.5,838.6 364.0,840.6 364.4,842.5 364.9,844.5 365.3,846.5 365.8,848.5 366.3,850.4 366.8,852.4 367.3,854.4 367.7,856.4 368.2,858.3 368.7,860.3 369.2,862.3 369.7,864.3 370.2,866.2 370.8,868.2 371.3,870.2 371.8,872.1 372.4,874.1 372.9,876.1 373.5,878.0 374.0,880.0 374.6,881.9 375.2,883.9 375.8,885.8 376.3,887.8 376.9,889.7 377.6,891.7 378.2,893.6 378.8,895.6 379.4,897.5 380.1,899.4 380.7,901.3 381.4,903.3 382.1,905.2 382.8,907.1 383.5,909.0 384.2,910.9 384.9,912.8 385.6,914.7 386.4,916.6 387.1,918.5 387.9,920.4 388.7,922.3 389.5,924.1 390.3,926.0 391.1,927.9 392.0,929.7 392.8,931.6 393.7,933.4 394.5,935.2 395.4,937.1 396.3,938.9 397.3,940.7 398.2,942.5 399.1,944.3 400.1,946.1 401.1,947.8 402.0,949.6 403.1,951.4 404.1,953.1 405.1,954.8 406.1,956.5 407.2,958.2 408.3,959.9 409.4,961.6 410.5,963.3 411.6,964.9 412.7,966.6 413.9,968.2 415.1,969.8 416.3,971.4 417.5,973.0 418.7,974.5 419.9,976.1 421.2,977.6 422.4,979.1 423.7,980.6 425.0,982.1 426.3,983.5 427.6,984.9 429.0,986.4 430.3,987.8 431.7,989.1 433.1,990.5 434.5,991.9 435.9,993.2 437.4,994.5 438.8,995.8 440.3,997.1 441.8,998.3 443.3,999.6 444.8,1000.8 446.3,1002.0 447.8,1003.2 449.4,1004.4 450.9,1005.6 452.5,1006.7 454.1,1007.9 455.7,1009.0 457.3,1010.1 458.9,1011.2 460.6,1012.3 462.2,1013.3 463.9,1014.4 465.5,1015.4 467.2,1016.4 468.9,1017.4 470.6,1018.4 472.3,1019.4 474.1,1020.3 475.8,1021.3 477.5,1022.2 479.3,1023.1 481.1,1024.0 482.8,1024.9 484.6,1025.8 486.4,1026.7 488.2,1027.5 490.0,1028.4 491.8,1029.2 493.7,1030.0 495.5,1030.8 497.3,1031.6 499.2,1032.4 501.0,1033.2 502.9,1033.9 504.8,1034.7 506.7,1035.4 508.5,1036.1 510.4,1036.9 512.3,1037.6 514.2,1038.3 516.1,1038.9 518.1,1039.6 520.0,1040.3 521.9,1040.9 523.9,1041.6 525.8,1042.2 527.7,1042.8 529.7,1043.4 531.6,1044.0 533.6,1044.6 535.6,1045.2 537.5,1045.8 539.5,1046.3 541.5,1046.9 543.5,1047.4 545.4,1048.0 547.4,1048.5 549.4,1049.0 551.4,1049.5 553.4,1050.0 555.4,1050.5 557.4,1051.0 559.4,1051.5 561.4,1051.9 563.4,1052.4 565.4,1052.9 567.4,1053.3 569.4,1053.8 571.4,1054.2 573.4,1054.6 575.4,1055.1 577.4,1055.5 579.5,1055.9 581.5,1056.3 583.5,1056.7 585.5,1057.1 587.5,1057.5 589.5,1057.8 591.5,1058.2 593.5,1058.6 595.5,1058.9 597.5,1059.3 599.5,1059.7 601.5,1060.0 603.5,1060.4 605.5,1060.7 607.5,1061.0 609.5,1061.4 611.5,1061.7 613.5,1062.0 615.5,1062.3 617.5,1062.6 619.5,1062.9 621.5,1063.2 623.5,1063.5 625.5,1063.8 627.5,1064.1 629.5,1064.4 631.5,1064.7 633.4,1064.9 635.4,1065.2 637.4,1065.5 639.4,1065.7 641.4,1066.0 643.4,1066.2 645.4,1066.5 647.4,1066.7 649.3,1067.0 651.3,1067.2 653.3,1067.5 655.3,1067.7 657.3,1067.9 659.3,1068.1 661.2,1068.4 663.2,1068.6 665.2,1068.8 667.2,1069.0 669.2,1069.2 671.2,1069.4 673.1,1069.6 675.1,1069.8 677.1,1070.0 679.1,1070.2 681.1,1070.4 683.1,1070.6 685.0,1070.8 687.0,1071.0 689.0,1071.1 691.0,1071.3 693.0,1071.5 694.9,1071.7 696.9,1071.8 698.9,1072.0 700.9,1072.2 702.9,1072.3 704.8,1072.5 706.8,1072.7 708.8,1072.8 710.8,1073.0 712.8,1073.1 714.8,1073.3 716.7,1073.4 718.7,1073.6 720.7,1073.7 722.7,1073.9 724.7,1074.0 726.6,1074.2 728.6,1074.3 730.6,1074.4 732.6,1074.6 734.6,1074.7 736.6,1074.9 738.6,1075.0 740.5,1075.1 742.5,1075.3 744.5,1075.4 746.5,1075.5 748.5,1075.7 750.5,1075.8 752.5,1075.9 754.5,1076.1 756.5,1076.2 758.4,1076.3 760.4,1076.5 762.4,1076.6 764.4,1076.7 766.4,1076.8 768.4,1077.0 770.4,1077.1 772.4,1077.2 774.4,1077.4 776.4,1077.5 778.4,1077.6 780.4,1077.7 782.4,1077.9 784.4,1078.0 786.4,1078.1 788.4,1078.3 790.4,1078.4 792.4,1078.5 794.4,1078.7 796.4,1078.8 798.5,1078.9 800.5,1079.1 802.5,1079.2 804.5,1079.3 806.5,1079.5 808.5,1079.6 810.5,1079.8 812.5,1079.9 814.6,1080.0 816.6,1080.2 818.6,1080.3 820.6,1080.5 822.6,1080.6 824.7,1080.8 826.7,1080.9 828.7,1081.1 830.8,1081.2 832.8,1081.4 834.8,1081.6 836.8,1081.7 838.9,1081.9 840.9,1082.0 843.0,1082.2 845.0,1082.4 847.0,1082.6 849.1,1082.7 851.1,1082.9 853.2,1083.1 855.2,1083.3" fill="none" stroke="#000" stroke-width="3.90" stroke-linejoin="miter" stroke-miterlimit="3" />
<polyline points="285.9,583.0 286.1,584.9 286.3,586.8 286.5,588.7 286.7,590.6 286.9,592.5 287.0,594.4 287.2,596.4 287.4,598.3 287.6,600.2 287.7,602.2 287.9,604.1 288.1,606.1 288.2,608.0 288.4,610.0 288.6,611.9 288.7,613.9 288.9,615.9 289.1,617.8 289.2,619.8 289.4,621.8 289.5,623.7 289.7,625.7 289.9,627.7 290.0,629.7 290.2,631.7 290.4,633.7 290.5,635.7 290.7,637.7 290.9,639.7 291.0,641.7 291.2,643.7 291.4,645.7 291.5,647.7 291.7,649.7 291.9,651.7 292.1,653.7 292.2,655.7 292.4,657.7 292.6,659.8 292.8,661.8 293.0,663.8 293.2,665.8 293.4,667.8 293.6,669.9 293.8,671.9 294.0,673.9 294.2,675.9 294.4,677.9 294.7,680.0 294.9,682.0 295.1,684.0 295.3,686.0 295.6,688.1 295.8,690.1 296.1,692.1 296.3,694.1 296.6,696.2 296.9,698.2 297.1,700.2 297.4,702.2 297.7,704.3 298.0,706.3 298.3,708.3 298.6,710.3 298.9,712.3 299.2,714.3 299.5,716.4 299.8,718.4 300.2,720.4 300.5,722.4 300.9,724.4 301.2,726.4 301.6,728.4 302.0,730.4 302.3,732.4 302.7,734.4 303.1,736.4 303.5,738.4 304.0,740.4 304.4,742.4 304.8,744.4 305.2,746.4 305.7,748.3 306.2,750.3 306.6,752.3 307.1,754.3 307.6,756.2 308.1,758.2 308.6,760.2 309.1,762.1 309.7,764.1 310.2,766.0 310.7,768.0 311.3,769.9 311.9,771.8 312.5,773.8 313.1,775.7 313.7,777.6 314.3,779.5 314.9,781.4 315.5,783.4 316.2,785.3 316.9,787.1 317.5,789.0 318.2,790.9 318.9,792.8 319.6,794.7 320.3,796.5 321.1,798.4 321.8,800.2 322.6,802.1 323.4,803.9 324.2,805.7 325.0,807.6 325.8,809.4 326.6,811.2 327.4,813.0 328.3,814.8 329.2,816.6 330.0,818.3 330.9,820.1 331.8,821.8 332.8,823.6 333.7,825.3 334.7,827.1 335.6,828.8 336.6,830.5 337.6,832.2 338.6,833.9 339.6,835.6 340.7,837.2 341.7,838.9 342.8,840.6 343.9,842.2 345.0,843.8 346.1,845.5 347.2,847.1 348.3,848.7 349.5,850.3 350.7,851.9 351.8,853.4 353.0,855.0 354.2,856.6 355.4,858.1 356.7,859.7 357.9,861.2 359.2,862.7 360.4,864.2 361.7,865.8 363.0,867.3 364.3,868.7 365.6,870.2 366.9,871.7 368.3,873.2 369.6,874.6 371.0,876.1 372.3,877.5 373.7,878.9 375.1,880.3 376.5,881.8 377.9,883.2 379.3,884.5 380.7,885.9 382.2,887.3 383.6,888.7 385.1,890.0 386.6,891.4 388.0,892.7 389.5,894.1 391.0,895.4 392.5,896.7 394.1,898.0 395.6,899.3 397.1,900.6 398.7,901.9 400.2,903.2 401.8,904.4 403.3,905.7 404.9,906.9 406.5,908.2 408.1,909.4 409.7,910.7 411.3,911.9 412.9,913.1 414.5,914.3 416.1,915.5 417.8,916.7 419.4,917.9 421.1,919.0 422.7,920.2 424.4,921.3 426.1,922.5 427.7,923.6 429.4,924.8 431.1,925.9 432.8,927.0 434.5,928.1 436.2,929.2 437.9,930.3 439.6,931.4 441.3,932.5 443.1,933.6 444.8,934.6 446.5,935.7 448.3,936.7 450.0,937.8 451.7,938.8 453.5,939.8 455.3,940.9 457.0,941.9 458.8,942.9 460.5,943.9 462.3,944.9 464.1,945.9 465.9,946.8 467.6,947.8 469.4,948.8 471.2,949.7 473.0,950.7 474.8,951.6 476.6,952.6 478.4,953.5 480.2,954.4 482.0,955.3 483.8,956.2 485.6,957.1 487.4,958.0 489.2,958.9 491.0,959.8 492.9,960.7 494.7,961.5 496.5,962.4 498.3,963.3 500.1,964.1 502.0,965.0 503.8,965.8 505.6,966.6 507.5,967.4 509.3,968.3 511.1,969.1 513.0,969.9 514.8,970.7 516.7,971.5 518.5,972.3 520.4,973.0 522.2,973.8 524.1,974.6 525.9,975.3 527.8,976.1 529.6,976.8 531.5,977.6 533.4,978.3 535.2,979.1 537.1,979.8 539.0,980.5 540.8,981.2 542.7,981.9 544.6,982.6 546.4,983.3 548.3,984.0 550.2,984.7 552.1,985.4 554.0,986.1 555.8,986.8 557.7,987.4 559.6,988.1 561.5,988.7 563.4,989.4 565.3,990.0 567.2,990.7 569.1,991.3 571.0,991.9 572.9,992.6 574.8,993.2 576.7,993.8 578.6,994.4 580.5,995.0 582.4,995.6 584.3,996.2 586.2,996.8 588.1,997.4 590.0,998.0 592.0,998.5 593.9,999.1 595.8,999.7 597.7,1000.2 599.6,1000.8 601.6,1001.3 603.5,1001.9 605.4,1002.4 607.3,1003.0 609.3,1003.5 611.2,1004.0 613.1,1004.6 615.1,1005.1 617.0,1005.6 618.9,1006.1 620.9,1006.6 622.8,1007.1 624.7,1007.6 626.7,1008.1 628.6,1008.6 630.6,1009.1 632.5,1009.6 634.4,1010.1 636.4,1010.6 638.3,1011.0 640.3,1011.5 642.2,1012.0 644.2,1012.4 646.1,1012.9 648.1,1013.4 650.0,1013.8 652.0,1014.3 653.9,1014.7 655.9,1015.1 657.8,1015.6 659.8,1016.0 661.8,1016.5 663.7,1016.9 665.7,1017.3 667.6,1017.7 669.6,1018.1 671.6,1018.6 673.5,1019.0 675.5,1019.4 677.5,1019.8 679.4,1020.2 681.4,1020.6 683.4,1021.0 685.3,1021.4 687.3,1021.8 689.3,1022.2 691.2,1022.5 693.2,1022.9 695.2,1023.3 697.2,1023.7 699.1,1024.1 701.1,1024.4 703.1,1024.8 705.1,1025.2 707.0,1025.5 709.0,1025.9 711.0,1026.2 713.0,1026.6 714.9,1027.0 716.9,1027.3 718.9,1027.7 720.9,1028.0 722.9,1028.3 724.8,1028.7 726.8,1029.0 728.8,1029.4 730.8,1029.7 732.8,1030.0 734.8,1030.4 736.7,1030.7 738.7,1031.0 740.7,1031.4 742.7,1031.7 744.7,1032.0 746.7,1032.3 748.7,1032.6 750.6,1033.0 752.6,1033.3 754.6,1033.6 756.6,1033.9 758.6,1034.2 760.6,1034.5 762.6,1034.8 764.5,1035.1 766.5,1035.4 768.5,1035.7 770.5,1036.0 772.5,1036.3 774.5,1036.6 776.5,1036.9 778.5,1037.2 780.5,1037.5 782.4,1037.8 784.4,1038.1 786.4,1038.4 788.4,1038.7 790.4,1039.0 792.4,1039.3 794.4,1039.6 796.4,1039.8 798.3,1040.1 800.3,1040.4 802.3,1040.7 804.3,1041.0 806.3,1041.3 808.3,1041.6 810.3,1041.8 812.3,1042.1 814.3,1042.4 816.2,1042.7 818.2,1043.0 820.2,1043.2 822.2,1043.5 824.2,1043.8 826.2,1044.1 828.2,1044.3 830.2,1044.6 832.1,1044.9 834.1,1045.1 836.1,1045.4 838.1,1045.7 840.1,1046.0 842.1,1046.2 844.1,1046.5 846.0,1046.8 848.0,1047.0 850.0,1047.3 852.0,1047.6 854.0,1047.8 856.0,1048.1 858.0,1048.3 860.0,1048.6 861.9,1048.9 863.9,1049.1 865.9,1049.4 867.9,1049.6 869.9,1049.9 871.9,1050.1 873.9,1050.4 875.9,1050.6 877.8,1050.9 879.8,1051.1 881.8,1051.4 883.8,1051.6 885.8,1051.9 887.8,1052.1 889.8,1052.4 891.8,1052.6 893.7,1052.8 895.7,1053.1 897.7,1053.3 899.7,1053.6 901.7,1053.8 903.7,1054.0 905.7,1054.3 907.7,1054.5 909.6,1054.7 911.6,1055.0 913.6,1055.2 915.6,1055.4 917.6,1055.6 919.6,1055.9 921.6,1056.1 923.6,1056.3 925.6,1056.5 927.5,1056.8 929.5,1057.0 931.5,1057.2 933.5,1057.4 935.5,1057.6 937.5,1057.8 939.5,1058.1 941.5,1058.3 943.5,1058.5 945.5,1058.7 947.5,1058.9 949.4,1059.1 951.4,1059.3 953.4,1059.5 955.4,1059.7 957.4,1059.9 959.4,1060.1 961.4,1060.3 963.4,1060.5 965.4,1060.7 967.4,1060.9 969.4,1061.1 971.4,1061.3 973.4,1061.5 975.4,1061.7 977.4,1061.8 979.4,1062.0 981.4,1062.2 983.3,1062.4 985.3,1062.6 987.3,1062.8 989.3,1062.9 991.3,1063.1 993.3,1063.3 995.3,1063.5 997.3,1063.6 999.3,1063.8 1001.3,1064.0 1003.3,1064.1 1005.3,1064.3 1007.3,1064.5 1009.3,1064.6 1011.3,1064.8 1013.3,1064.9 1015.3,1065.1 1017.3,1065.3 1019.3,1065.4 1021.3,1065.6 1023.3,1065.7 1025.3,1065.9 1027.3,1066.0 1029.3,1066.2 1031.4,1066.3 1033.4,1066.4 1035.4,1066.6 1037.4,1066.7 1039.4,1066.9 1041.4,1067.0 1043.4,1067.1 1045.4,1067.3 1047.4,1067.4 1049.4,1067.5 1051.4,1067.6 1053.4,1067.8 1055.4,1067.9 1057.4,1068.0 1059.5,1068.1 1061.5,1068.2 1063.5,1068.4 1065.5,1068.5 1067.5,1068.6 1069.5,1068.7 1071.5,1068.8 1073.5,1068.9 1075.5,1069.0 1077.6,1069.1 1079.6,1069.2" fill="none" stroke="#f00" stroke-width="3.90" stroke-linejoin="miter" stroke-miterlimit="3" />
<polyline points="262.5,582.2 262.6,584.3 262.6,586.4 262.7,588.5 262.7,590.6 262.8,592.7 262.8,594.8 262.9,596.9 263.0,598.9 263.1,601.0 263.1,603.0 263.2,605.1 263.3,607.1 263.4,609.1 263.5,611.1 263.6,613.2 263.7,615.2 263.8,617.2 264.0,619.2 264.1,621.2 264.2,623.2 264.3,625.2 264.5,627.1 264.6,629.1 264.8,631.1 264.9,633.1 265.1,635.0 265.2,637.0 265.4,639.0 265.5,640.9 265.7,642.9 265.9,644.8 266.0,646.8 266.2,648.7 266.4,650.7 266.6,652.6 266.8,654.6 266.9,656.5 267.1,658.5 267.3,660.4 267.5,662.4 267.7,664.3 267.9,666.2 268.1,668.2 268.4,670.1 268.6,672.1 268.8,674.0 269.0,676.0 269.2,677.9 269.5,679.9 269.7,681.8 269.9,683.8 270.1,685.7 270.4,687.7 270.6,689.6 270.9,691.6 271.1,693.5 271.3,695.5 271.6,697.5 271.8,699.4 272.1,701.4 272.3,703.4 272.6,705.4 272.9,707.3 273.1,709.3 273.4,711.3 273.7,713.3 273.9,715.3 274.2,717.3 274.5,719.3 274.7,721.4 275.0,723.4 275.3,725.4 275.6,727.5 275.8,729.5 276.1,731.5 276.4,733.6 276.7,735.6 277.0,737.7 277.3,739.8 277.6,741.8 277.9,743.9 278.2,745.9 278.5,748.0 278.9,750.1 279.2,752.1 279.6,754.2 279.9,756.2 280.3,758.3 280.7,760.4 281.0,762.4 281.4,764.5 281.8,766.5 282.3,768.5 282.7,770.6 283.1,772.6 283.6,774.6 284.1,776.6 284.6,778.6 285.1,780.6 285.6,782.6 286.1,784.6 286.7,786.6 287.2,788.5 287.8,790.5 288.4,792.4 289.0,794.4 289.7,796.3 290.3,798.2 291.0,800.1 291.7,802.0 292.4,803.8 293.1,805.7 293.9,807.5 294.7,809.3 295.5,811.1 296.3,812.9 297.2,814.7 298.0,816.5 298.9,818.2 299.8,819.9 300.8,821.6 301.8,823.3 302.8,825.0 303.8,826.6 304.9,828.2 305.9,829.8 307.1,831.4 308.2,832.9 309.4,834.5 310.6,836.0 311.8,837.4 313.0,838.9 314.3,840.3 315.6,841.8 317.0,843.2 318.3,844.5 319.7,845.9 321.1,847.2 322.5,848.5 324.0,849.8 325.5,851.1 326.9,852.4 328.5,853.6 330.0,854.9 331.5,856.1 333.1,857.3 334.7,858.4 336.3,859.6 337.9,860.8 339.5,861.9 341.2,863.0 342.9,864.1 344.5,865.2 346.2,866.3 347.9,867.4 349.7,868.4 351.4,869.4 353.1,870.5 354.9,871.5 356.6,872.5 358.4,873.5 360.2,874.5 361.9,875.4 363.7,876.4 365.5,877.4 367.3,878.3 369.1,879.3 370.9,880.2 372.7,881.1 374.6,882.0 376.4,882.9 378.2,883.8 380.0,884.7 381.8,885.6 383.7,886.5 385.5,887.4 387.3,888.3 389.1,889.1 391.0,890.0 392.8,890.8 394.7,891.7 396.5,892.5 398.3,893.3 400.2,894.2 402.0,895.0 403.9,895.8 405.7,896.6 407.6,897.4 409.4,898.2 411.3,899.0 413.1,899.8 415.0,900.6 416.8,901.4 418.7,902.1 420.6,902.9 422.4,903.6 424.3,904.4 426.2,905.2 428.0,905.9 429.9,906.6 431.8,907.4 433.6,908.1 435.5,908.8 437.4,909.5 439.3,910.2 441.1,911.0 443.0,911.7 444.9,912.4 446.8,913.1 448.7,913.7 450.6,914.4 452.4,915.1 454.3,915.8 456.2,916.5 458.1,917.1 460.0,917.8 461.9,918.5 463.8,919.1 465.7,919.8 467.6,920.4 469.5,921.1 471.4,921.7 473.3,922.3 475.2,923.0 477.1,923.6 479.0,924.2 480.9,924.8 482.8,925.5 484.7,926.1 486.6,926.7 488.5,927.3 490.4,927.9 492.4,928.5 494.3,929.1 496.2,929.7 498.1,930.3 500.0,930.9 501.9,931.5 503.9,932.0 505.8,932.6 507.7,933.2 509.6,933.8 511.5,934.3 513.5,934.9 515.4,935.5 517.3,936.0 519.2,936.6 521.1,937.2 523.1,937.7 525.0,938.3 526.9,938.8 528.8,939.4 530.8,939.9 532.7,940.5 534.6,941.0 536.6,941.6 538.5,942.1 540.4,942.6 542.4,943.2 544.3,943.7 546.2,944.2 548.2,944.8 550.1,945.3 552.0,945.8 554.0,946.4 555.9,946.9 557.8,947.4 559.8,947.9 561.7,948.5 563.6,949.0 565.6,949.5 567.5,950.0 569.4,950.5 571.4,951.0 573.3,951.6 575.3,952.1 577.2,952.6 579.1,953.1 581.1,953.6 583.0,954.1 584.9,954.6 586.9,955.1 588.8,955.6 590.8,956.1 592.7,956.7 594.6,957.2 596.6,957.7 598.5,958.2 600.5,958.7 602.4,959.2 604.4,959.7 606.3,960.2 608.2,960.6 610.2,961.1 612.1,961.6 614.1,962.1 616.0,962.6 618.0,963.1 619.9,963.6 621.8,964.1 623.8,964.6 625.7,965.1 627.7,965.5 629.6,966.0 631.6,966.5 633.5,967.0 635.5,967.5 637.4,968.0 639.4,968.4 641.3,968.9 643.3,969.4 645.2,969.9 647.1,970.3 649.1,970.8 651.0,971.3 653.0,971.7 654.9,972.2 656.9,972.7 658.8,973.1 660.8,973.6 662.7,974.1 664.7,974.5 666.6,975.0 668.6,975.5 670.5,975.9 672.5,976.4 674.4,976.8 676.4,977.3 678.4,977.8 680.3,978.2 682.3,978.7 684.2,979.1 686.2,979.6 688.1,980.0 690.1,980.5 692.0,980.9 694.0,981.4 695.9,981.8 697.9,982.3 699.8,982.7 701.8,983.1 703.8,983.6 705.7,984.0 707.7,984.5 709.6,984.9 711.6,985.3 713.5,985.8 715.5,986.2 717.5,986.6 719.4,987.1 721.4,987.5 723.3,987.9 725.3,988.4 727.2,988.8 729.2,989.2 731.2,989.6 733.1,990.1 735.1,990.5 737.0,990.9 739.0,991.3 741.0,991.7 742.9,992.2 744.9,992.6 746.8,993.0 748.8,993.4 750.8,993.8 752.7,994.2 754.7,994.7 756.7,995.1 758.6,995.5 760.6,995.9 762.5,996.3 764.5,996.7 766.5,997.1 768.4,997.5 770.4,997.9 772.4,998.3 774.3,998.7 776.3,999.1 778.3,999.5 780.2,999.9 782.2,1000.3 784.2,1000.7 786.1,1001.1 788.1,1001.5 790.1,1001.9 792.0,1002.3 794.0,1002.6 796.0,1003.0 797.9,1003.4 799.9,1003.8 801.9,1004.2 803.8,1004.6 805.8,1005.0 807.8,1005.3 809.7,1005.7 811.7,1006.1 813.7,1006.5 815.6,1006.8 817.6,1007.2 819.6,1007.6 821.5,1008.0 823.5,1008.3 825.5,1008.7 827.5,1009.1 829.4,1009.4 831.4,1009.8 833.4,1010.2 835.3,1010.5 837.3,1010.9 839.3,1011.3 841.3,1011.6 843.2,1012.0 845.2,1012.3 847.2,1012.7 849.2,1013.1 851.1,1013.4 853.1,1013.8 855.1,1014.1 857.0,1014.5 859.0,1014.8 861.0,1015.2 863.0,1015.5 864.9,1015.9 866.9,1016.2 868.9,1016.5 870.9,1016.9 872.8,1017.2 874.8,1017.6 876.8,1017.9 878.8,1018.2 880.7,1018.6 882.7,1018.9 884.7,1019.3 886.7,1019.6 888.7,1019.9 890.6,1020.3 892.6,1020.6 894.6,1020.9 896.6,1021.2 898.5,1021.6 900.5,1021.9 902.5,1022.2 904.5,1022.5 906.5,1022.9 908.4,1023.2 910.4,1023.5 912.4,1023.8 914.4,1024.1 916.4,1024.4 918.3,1024.8 920.3,1025.1 922.3,1025.4 924.3,1025.7 926.3,1026.0 928.2,1026.3 930.2,1026.6 932.2,1026.9 934.2,1027.2 936.2,1027.5 938.1,1027.8 940.1,1028.1 942.1,1028.4 944.1,1028.7 946.1,1029.0 948.1,1029.3 950.0,1029.6 952.0,1029.9 954.0,1030.2 956.0,1030.5 958.0,1030.8 960.0,1031.1 961.9,1031.4 963.9,1031.7 965.9,1031.9 967.9,1032.2 969.9,1032.5 971.9,1032.8 973.9,1033.1 975.8,1033.3 977.8,1033.6 979.8,1033.9 981.8,1034.2 983.8,1034.4 985.8,1034.7 987.8,1035.0 989.7,1035.3 991.7,1035.5 993.7,1035.8 995.7,1036.1 997.7,1036.3 999.7,1036.6 1001.7,1036.9 1003.7,1037.1 1005.6,1037.4 1007.6,1037.6 1009.6,1037.9 1011.6,1038.2 1013.6,1038.4 1015.6,1038.7 1017.6,1038.9 1019.6,1039.2 1021.5,1039.4 1023.5,1039.7 1025.5,1039.9 1027.5,1040.2 1029.5,1040.4 1031.5,1040.7 1033.5,1040.9 1035.5,1041.1 1037.5,1041.4 1039.5,1041.6 1041.5,1041.9 1043.4,1042.1 1045.4,1042.3 1047.4,1042.6 1049.4,1042.8 1051.4,1043.0 1053.4,1043.3 1055.4,1043.5 1057.4,1043.7 1059.4,1043.9 1061.4,1044.2 1063.4,1044.4 1065.4,1044.6 1067.3,1044.8 1069.3,1045.1 1071.3,1045.3 1073.3,1045.5 1075.3,1045.7 1077.3,1045.9 1079.3,1046.1 1081.3,1046.4 1083.3,1046.6 1085.3,1046.8 1087.3,1047.0 1089.3,1047.2 1091.3,1047.4 1093.3,1047.6 1095.3,1047.8 1097.3,1048.0 1099.3,1048.2 1101.2,1048.4 1103.2,1048.6 1105.2,1048.8 1107.2,1049.0 1109.2,1049.2 1111.2,1049.4 1113.2,1049.6 1115.2,1049.8 1117.2,1050.0 1119.2,1050.2 1121.2,1050.4 1123.2,1050.5 1125.2,1050.7 1127.2,1050.9 1129.2,1051.1 1131.2,1051.3 1133.2,1051.5 1135.2,1051.6 1137.2,1051.8 1139.2,1052.0 1141.2,1052.2 1143.2,1052.3 1145.2,1052.5 1147.2,1052.7 1149.2,1052.8 1151.2,1053.0 1153.2,1053.2 1155.2,1053.3 1157.2,1053.5 1159.2,1053.7 1161.2,1053.8 1163.2,1054.0 1165.2,1054.2 1167.2,1054.3 1169.2,1054.5 1171.2,1054.6 1173.2,1054.8 1175.2,1054.9 1177.2,1055.1 1179.2,1055.2 1181.2,1055.4 1183.2,1055.5 1185.2,1055.7 1187.2,1055.8 1189.2,1056.0 1191.2,1056.1 1193.2,1056.3 1195.2,1056.4 1197.2,1056.5 1199.2,1056.7 1201.2,1056.8 1203.2,1056.9 1205.2,1057.1 1207.2,1057.2 1209.2,1057.3 1211.2,1057.5 1213.2,1057.6 1215.2,1057.7 1217.2,1057.8 1219.2,1058.0 1221.2,1058.1 1223.2,1058.2 1225.2,1058.3 1227.2,1058.5 1229.2,1058.6 1231.2,1058.7 1233.2,1058.8 1235.2,1058.9 1237.2,1059.0 1239.2,1059.1 1241.2,1059.3 1243.2,1059.4 1245.2,1059.5 1247.2,1059.6 1249.2,1059.7 1251.2,1059.8 1253.3,1059.9 1255.3,1060.0 1257.3,1060.1 1259.3,1060.2 1261.3,1060.3 1263.3,1060.4 1265.3,1060.5 1267.3,1060.6 1269.3,1060.6 1271.3,1060.7 1273.3,1060.8 1275.3,1060.9 1277.3,1061.0 1279.3,1061.1 1281.3,1061.2 1283.3,1061.2 1285.3,1061.3 1287.3,1061.4 1289.3,1061.5 1291.3,1061.6" fill="none" stroke="#0f0" stroke-width="3.90" stroke-linejoin="miter" stroke-miterlimit="3" />
<polyline points="251.2,582.6 251.4,584.6 251.6,586.6 251.8,588.6 252.0,590.5 252.2,592.5 252.3,594.5 252.5,596.5 252.6,598.5 252.8,600.5 252.9,602.5 253.1,604.5 253.2,606.5 253.3,608.5 253.4,610.5 253.5,612.5 253.6,614.5 253.7,616.5 253.8,618.4 253.9,620.4 254.0,622.4 254.1,624.4 254.2,626.4 254.3,628.4 254.3,630.4 254.4,632.4 254.5,634.4 254.5,636.4 254.6,638.4 254.7,640.4 254.7,642.4 254.8,644.4 254.8,646.4 254.9,648.4 255.0,650.4 255.0,652.4 255.1,654.4 255.1,656.4 255.2,658.4 255.2,660.4 255.3,662.4 255.3,664.4 255.4,666.4 255.5,668.4 255.5,670.4 255.6,672.4 255.7,674.4 255.7,676.4 255.8,678.4 255.9,680.4 255.9,682.5 256.0,684.5 256.1,686.5 256.2,688.5 256.3,690.5 256.4,692.5 256.5,694.5 256.6,696.5 256.7,698.5 256.8,700.5 256.9,702.5 257.0,704.5 257.2,706.5 257.3,708.5 257.5,710.5 257.6,712.5 257.8,714.5 257.9,716.5 258.1,718.5 258.3,720.5 258.5,722.5 258.7,724.4 258.9,726.4 259.1,728.4 259.3,730.4 259.5,732.4 259.8,734.4 260.0,736.4 260.3,738.4 260.5,740.4 260.8,742.4 261.1,744.4 261.4,746.4 261.7,748.4 262.0,750.4 262.3,752.4 262.7,754.4 263.0,756.4 263.4,758.3 263.8,760.3 264.2,762.3 264.6,764.3 265.0,766.3 265.4,768.3 265.9,770.3 266.3,772.3 266.8,774.2 267.3,776.2 267.8,778.2 268.3,780.2 268.9,782.1 269.4,784.1 270.0,786.1 270.5,788.0 271.1,790.0 271.7,791.9 272.4,793.9 273.0,795.8 273.7,797.7 274.4,799.6 275.1,801.5 275.8,803.4 276.5,805.3 277.3,807.2 278.1,809.0 278.9,810.9 279.7,812.7 280.5,814.5 281.4,816.3 282.2,818.1 283.1,819.9 284.1,821.6 285.0,823.4 286.0,825.1 287.0,826.8 288.0,828.5 289.0,830.1 290.1,831.8 291.1,833.4 292.2,835.0 293.4,836.6 294.5,838.1 295.7,839.6 296.9,841.2 298.1,842.6 299.4,844.1 300.7,845.5 302.0,846.9 303.3,848.3 304.7,849.7 306.1,851.0 307.5,852.3 308.9,853.5 310.4,854.8 311.9,856.0 313.4,857.1 315.0,858.3 316.6,859.4 318.2,860.5 319.8,861.5 321.5,862.6 323.1,863.6 324.9,864.5 326.6,865.5 328.3,866.4 330.1,867.3 331.9,868.2 333.7,869.1 335.5,869.9 337.4,870.7 339.2,871.5 341.1,872.3 343.0,873.1 344.9,873.8 346.8,874.6 348.7,875.3 350.6,876.0 352.5,876.7 354.5,877.4 356.4,878.0 358.4,878.7 360.3,879.4 362.3,880.0 364.3,880.7 366.2,881.3 368.2,881.9 370.2,882.6 372.1,883.2 374.1,883.8 376.1,884.4 378.0,885.1 380.0,885.7 381.9,886.3 383.9,886.9 385.8,887.5 387.8,888.1 389.7,888.8 391.7,889.4 393.6,890.0 395.5,890.6 397.5,891.2 399.4,891.8 401.3,892.4 403.2,893.0 405.2,893.6 407.1,894.2 409.0,894.8 410.9,895.5 412.8,896.1 414.8,896.7 416.7,897.3 418.6,897.8 420.5,898.4 422.4,899.0 424.3,899.6 426.2,900.2 428.1,900.8 430.0,901.4 432.0,902.0 433.9,902.6 435.8,903.2 437.7,903.8 439.6,904.3 441.5,904.9 443.4,905.5 445.3,906.1 447.2,906.7 449.1,907.2 451.0,907.8 452.9,908.4 454.8,909.0 456.7,909.5 458.6,910.1 460.5,910.7 462.4,911.2 464.3,911.8 466.2,912.4 468.1,912.9 470.0,913.5 472.0,914.0 473.9,914.6 475.8,915.2 477.7,915.7 479.6,916.3 481.5,916.8 483.4,917.4 485.3,917.9 487.3,918.5 489.2,919.0 491.1,919.6 493.0,920.1 494.9,920.6 496.8,921.2 498.8,921.7 500.7,922.3 502.6,922.8 504.5,923.3 506.4,923.9 508.4,924.4 510.3,924.9 512.2,925.5 514.1,926.0 516.1,926.5 518.0,927.0 519.9,927.6 521.8,928.1 523.8,928.6 525.7,929.1 527.6,929.7 529.6,930.2 531.5,930.7 533.4,931.2 535.4,931.7 537.3,932.2 539.2,932.7 541.2,933.2 543.1,933.8 545.0,934.3 547.0,934.8 548.9,935.3 550.8,935.8 552.8,936.3 554.7,936.8 556.6,937.3 558.6,937.8 560.5,938.3 562.5,938.8 564.4,939.3 566.3,939.8 568.3,940.2 570.2,940.7 572.2,941.2 574.1,941.7 576.1,942.2 578.0,942.7 579.9,943.2 581.9,943.6 583.8,944.1 585.8,944.6 587.7,945.1 589.7,945.6 591.6,946.0 593.6,946.5 595.5,947.0 597.5,947.5 599.4,947.9 601.4,948.4 603.3,948.9 605.2,949.3 607.2,949.8 609.1,950.3 611.1,950.7 613.0,951.2 615.0,951.7 617.0,952.1 618.9,952.6 620.9,953.0 622.8,953.5 624.8,953.9 626.7,954.4 628.7,954.9 630.6,955.3 632.6,955.8 634.5,956.2 636.5,956.7 638.4,957.1 640.4,957.5 642.4,958.0 644.3,958.4 646.3,958.9 648.2,959.3 650.2,959.8 652.1,960.2 654.1,960.6 656.0,961.1 658.0,961.5 660.0,961.9 661.9,962.4 663.9,962.8 665.8,963.2 667.8,963.7 669.8,964.1 671.7,964.5 673.7,965.0 675.6,965.4 677.6,965.8 679.5,966.2 681.5,966.6 683.5,967.1 685.4,967.5 687.4,967.9 689.3,968.3 691.3,968.7 693.3,969.2 695.2,969.6 697.2,970.0 699.2,970.4 701.1,970.8 703.1,971.2 705.0,971.6 707.0,972.0 709.0,972.4 710.9,972.8 712.9,973.2 714.9,973.6 716.8,974.1 718.8,974.5 720.7,974.9 722.7,975.3 724.7,975.6 726.6,976.0 728.6,976.4 730.6,976.8 732.5,977.2 734.5,977.6 736.5,978.0 738.4,978.4 740.4,978.8 742.4,979.2 744.3,979.6 746.3,980.0 748.3,980.3 750.2,980.7 752.2,981.1 754.2,981.5 756.1,981.9 758.1,982.2 760.1,982.6 762.0,983.0 764.0,983.4 766.0,983.8 767.9,984.1 769.9,984.5 771.9,984.9 773.8,985.2 775.8,985.6 777.8,986.0 779.7,986.4 781.7,986.7 783.7,987.1 785.6,987.5 787.6,987.8 789.6,988.2 791.5,988.5 793.5,988.9 795.5,989.3 797.5,989.6 799.4,990.0 801.4,990.3 803.4,990.7 805.3,991.0 807.3,991.4 809.3,991.8 811.3,992.1 813.2,992.5 815.2,992.8 817.2,993.2 819.1,993.5 821.1,993.9 823.1,994.2 825.1,994.5 827.0,994.9 829.0,995.2 831.0,995.6 833.0,995.9 834.9,996.3 836.9,996.6 838.9,996.9 840.8,997.3 842.8,997.6 844.8,997.9 846.8,998.3 848.7,998.6 850.7,998.9 852.7,999.3 854.7,999.6 856.6,999.9 858.6,1000.3 860.6,1000.6 862.6,1000.9 864.5,1001.2 866.5,1001.6 868.5,1001.9 870.5,1002.2 872.5,1002.5 874.4,1002.8 876.4,1003.2 878.4,1003.5 880.4,1003.8 882.3,1004.1 884.3,1004.4 886.3,1004.8 888.3,1005.1 890.2,1005.4 892.2,1005.7 894.2,1006.0 896.2,1006.3 898.2,1006.6 900.1,1006.9 902.1,1007.2 904.1,1007.5 906.1,1007.8 908.1,1008.2 910.0,1008.5 912.0,1008.8 914.0,1009.1 916.0,1009.4 917.9,1009.7 919.9,1010.0 921.9,1010.3 923.9,1010.6 925.9,1010.9 927.8,1011.2 929.8,1011.4 931.8,1011.7 933.8,1012.0 935.8,1012.3 937.8,1012.6 939.7,1012.9 941.7,1013.2 943.7,1013.5 945.7,1013.8 947.7,1014.1 949.6,1014.3 951.6,1014.6 953.6,1014.9 955.6,1015.2 957.6,1015.5 959.5,1015.8 961.5,1016.0 963.5,1016.3 965.5,1016.6 967.5,1016.9 969.5,1017.2 971.4,1017.4 973.4,1017.7 975.4,1018.0 977.4,1018.3 979.4,1018.5 981.4,1018.8 983.3,1019.1 985.3,1019.3 987.3,1019.6 989.3,1019.9 991.3,1020.1 993.3,1020.4 995.3,1020.7 997.2,1020.9 999.2,1021.2 1001.2,1021.5 1003.2,1021.7 1005.2,1022.0 1007.2,1022.3 1009.1,1022.5 1011.1,1022.8 1013.1,1023.0 1015.1,1023.3 1017.1,1023.5 1019.1,1023.8 1021.1,1024.1 1023.1,1024.3 1025.0,1024.6 1027.0,1024.8 1029.0,1025.1 1031.0,1025.3 1033.0,1025.6 1035.0,1025.8 1037.0,1026.1 1038.9,1026.3 1040.9,1026.6 1042.9,1026.8 1044.9,1027.1 1046.9,1027.3 1048.9,1027.5 1050.9,1027.8 1052.9,1028.0 1054.8,1028.3 1056.8,1028.5 1058.8,1028.7 1060.8,1029.0 1062.8,1029.2 1064.8,1029.5 1066.8,1029.7 1068.8,1029.9 1070.8,1030.2 1072.7,1030.4 1074.7,1030.6 1076.7,1030.9 1078.7,1031.1 1080.7,1031.3 1082.7,1031.6 1084.7,1031.8 1086.7,1032.0 1088.7,1032.2 1090.6,1032.5 1092.6,1032.7 1094.6,1032.9 1096.6,1033.2 1098.6,1033.4 1100.6,1033.6 1102.6,1033.8 1104.6,1034.0 1106.6,1034.3 1108.6,1034.5 1110.6,1034.7 1112.5,1034.9 1114.5,1035.1 1116.5,1035.4 1118.5,1035.6 1120.5,1035.8 1122.5,1036.0 1124.5,1036.2 1126.5,1036.4 1128.5,1036.6 1130.5,1036.9 1132.5,1037.1 1134.4,1037.3 1136.4,1037.5 1138.4,1037.7 1140.4,1037.9 1142.4,1038.1 1144.4,1038.3 1146.4,1038.5 1148.4,1038.7 1150.4,1038.9 1152.4,1039.1 1154.4,1039.4 1156.4,1039.6 1158.4,1039.8 1160.4,1040.0 1162.3,1040.2 1164.3,1040.4 1166.3,1040.6 1168.3,1040.8 1170.3,1041.0 1172.3,1041.2 1174.3,1041.4 1176.3,1041.5 1178.3,1041.7 1180.3,1041.9 1182.3,1042.1 1184.3,1042.3 1186.3,1042.5 1188.3,1042.7 1190.3,1042.9 1192.2,1043.1 1194.2,1043.3 1196.2,1043.5 1198.2,1043.7 1200.2,1043.8 1202.2,1044.0 1204.2,1044.2 1206.2,1044.4 1208.2,1044.6 1210.2,1044.8 1212.2,1045.0 1214.2,1045.1 1216.2,1045.3 1218.2,1045.5 1220.2,1045.7 1222.2,1045.9 1224.2,1046.0 1226.2,1046.2 1228.2,1046.4 1230.2,1046.6 1232.1,1046.8 1234.1,1046.9 1236.1,1047.1 1238.1,1047.3 1240.1,1047.5 1242.1,1047.6 1244.1,1047.8 1246.1,1048.0 1248.1,1048.2 1250.1,1048.3 1252.1,1048.5 1254.1,1048.7 1256.1,1048.8 1258.1,1049.0 1260.1,1049.2 1262.1,1049.3 1264.1,1049.5 1266.1,1049.7 1268.1,1049.8 1270.1,1050.0 1272.1,1050.2 1274.1,1050.3 1276.1,1050.5 1278.1,1050.7 1280.1,1050.8 1282.1,1051.0 1284.1,1051.2 1286.1,1051.3 1288.1,1051.5 1290.0,1051.6 1292.0,1051.8 1294.0,1051.9 1296.0,1052.1 1298.0,1052.3 1300.0,1052.4 1302.0,1052.6 1304.0,1052.7 1306.0,1052.9 1308.0,1053.0 1310.0,1053.2 1312.0,1053.3 1314.0,1053.5 1316.0,1053.7 1318.0,1053.8 1320.0,1054.0 1322.0,1054.1 1324.0,1054.3 1326.0,1054.4 1328.0,1054.6 1330.0,1054.7 1332.0,1054.8 1334.0,1055.0 1336.0,1055.1 1338.0,1055.3 1340.0,1055.4 1342.0,1055.6 1344.0,1055.7 1346.0,1055.9 1348.0,1056.0 1350.0,1056.1 1352.0,1056.3 1354.0,1056.4 1356.0,1056.6 1358.0,1056.7 1360.0,1056.9 1362.0,1057.0 1364.0,1057.1 1366.0,1057.3 1368.0,1057.4 1370.0,1057.5 1372.0,1057.7 1374.0,1057.8 1376.0,1058.0 1378.0,1058.1 1380.0,1058.2 1382.0,1058.4 1384.0,1058.5 1386.0,1058.6 1388.0,1058.8 1390.0,1058.9 1392.0,1059.0 1394.0,1059.1 1396.0,1059.3 1398.0,1059.4 1400.0,1059.5 1402.0,1059.7 1404.0,1059.8 1406.0,1059.9 1408.0,1060.1 1410.0,1060.2 1412.0,1060.3 1414.0,1060.4 1416.0,1060.6 1418.0,1060.7 1420.0,1060.8 1422.0,1060.9 1424.0,1061.1 1426.0,1061.2 1428.0,1061.3 1430.0,1061.4 1432.0,1061.5 1434.0,1061.7 1436.0,1061.8 1438.0,1061.9 1440.0,1062.0 1442.0,1062.1 1444.0,1062.3 1446.0,1062.4 1448.0,1062.5 1450.0,1062.6 1452.0,1062.7 1454.0,1062.8 1456.0,1063.0 1458.0,1063.1 1460.0,1063.2 1462.0,1063.3 1464.0,1063.4 1466.0,1063.5 1468.0,1063.7 1470.0,1063.8 1472.0,1063.9 1474.0,1064.0 1476.0,1064.1 1478.0,1064.2 1480.0,1064.3 1482.0,1064.4 1484.0,1064.5 1486.0,1064.7 1488.0,1064.8 1490.0,1064.9 1492.0,1065.0 1494.0,1065.1 1496.0,1065.2 1498.0,1065.3 1500.0,1065.4 1502.0,1065.5 1504.0,1065.6 1506.0,1065.7 1508.0,1065.8 1510.0,1065.9 1512.0,1066.0 1514.0,1066.1 1516.0,1066.2 1518.0,1066.4 1520.0,1066.5 1522.0,1066.6 1524.0,1066.7 1526.0,1066.8 1528.0,1066.9 1530.0,1067.0 1532.0,1067.1 1534.0,1067.2 1536.0,1067.3 1538.0,1067.4 1540.0,1067.5 1542.0,1067.6 1544.0,1067.7 1546.0,1067.8 1548.0,1067.8 1550.0,1067.9 1552.0,1068.0 1554.0,1068.1 1556.0,1068.2 1558.0,1068.3 1560.0,1068.4 1562.0,1068.5 1564.0,1068.6 1566.0,1068.7 1568.0,1068.8 1570.0,1068.9 1572.0,1069.0 1574.0,1069.1 1576.0,1069.2 1578.0,1069.3 1580.0,1069.4 1582.0,1069.4 1584.0,1069.5 1586.0,1069.6 1588.0,1069.7 1590.0,1069.8 1592.0,1069.9 1594.0,1070.0 1596.0,1070.1 1598.0,1070.2 1600.0,1070.3 1602.0,1070.3 1604.0,1070.4 1606.0,1070.5 1608.0,1070.6 1610.0,1070.7 1612.0,1070.8 1614.0,1070.9 1616.0,1070.9 1618.0,1071.0 1620.0,1071.1 1622.0,1071.2 1624.0,1071.3 1626.0,1071.4 1628.0,1071.5 1630.0,1071.5 1632.0,1071.6 1634.0,1071.7 1636.0,1071.8 1638.0,1071.9 1640.0,1071.9 1642.0,1072.0 1644.0,1072.1 1646.0,1072.2 1648.0,1072.3 1650.0,1072.4 1652.0,1072.4 1654.0,1072.5 1655.9,1072.6 1657.9,1072.7 1659.9,1072.8" fill="none" stroke="#00f" stroke-width="3.90" stroke-linejoin="miter" stroke-miterlimit="3" />
</g>
<g>
<line x1="423.62" y1="38.50" x2="423.62" y2="54.00" stroke="#000" stroke-width="2.20" stroke-linecap="butt"/>
<line x1="423.62" y1="566.90" x2="423.62" y2="597.90" stroke="#000" stroke-width="2.20" stroke-linecap="butt"/>
<line x1="423.62" y1="1110.50" x2="423.62" y2="1126.00" stroke="#000" stroke-width="2.20" stroke-linecap="butt"/>
<line x1="616.75" y1="38.50" x2="616.75" y2="69.50" stroke="#000" stroke-width="2.20" stroke-linecap="butt"/>
<line x1="616.75" y1="551.40" x2="616.75" y2="613.40" stroke="#000" stroke-width="2.20" stroke-linecap="butt"/>
<line x1="616.75" y1="1095.00" x2="616.75" y2="1126.00" stroke="#000" stroke-width="2.20" stroke-linecap="butt"/>
<line x1="809.88" y1="38.50" x2="809.88" y2="54.00" stroke="#000" stroke-width="2.20" stroke-linecap="butt"/>
<line x1="809.88" y1="566.90" x2="809.88" y2="597.90" stroke="#000" stroke-width="2.20" stroke-linecap="butt"/>
<line x1="809.88" y1="1110.50" x2="809.88" y2="1126.00" stroke="#000" stroke-width="2.20" stroke-linecap="butt"/>
<line x1="1003.00" y1="38.50" x2="1003.00" y2="69.50" stroke="#000" stroke-width="2.20" stroke-linecap="butt"/>
<line x1="1003.00" y1="551.40" x2="1003.00" y2="613.40" stroke="#000" stroke-width="2.20" stroke-linecap="butt"/>
<line x1="1003.00" y1="1095.00" x2="1003.00" y2="1126.00" stroke="#000" stroke-width="2.20" stroke-linecap="butt"/>
<line x1="1196.12" y1="38.50" x2="1196.12" y2="54.00" stroke="#000" stroke-width="2.20" stroke-linecap="butt"/>
<line x1="1196.12" y1="566.90" x2="1196.12" y2="597.90" stroke="#000" stroke-width="2.20" stroke-linecap="butt"/>
<line x1="1196.12" y1="1110.50" x2="1196.12" y2="1126.00" stroke="#000" stroke-width="2.20" stroke-linecap="butt"/>
<line x1="1389.25" y1="38.50" x2="1389.25" y2="69.50" stroke="#000" stroke-width="2.20" stroke-linecap="butt"/>
<line x1="1389.25" y1="551.40" x2="1389.25" y2="613.40" stroke="#000" stroke-width="2.20" stroke-linecap="butt"/>
<line x1="1389.25" y1="1095.00" x2="1389.25" y2="1126.00" stroke="#000" stroke-width="2.20" stroke-linecap="butt"/>
<line x1="1582.38" y1="38.50" x2="1582.38" y2="54.00" stroke="#000" stroke-width="2.20" stroke-linecap="butt"/>
<line x1="1582.38" y1="566.90" x2="1582.38" y2="597.90" stroke="#000" stroke-width="2.20" stroke-linecap="butt"/>
<line x1="1582.38" y1="1110.50" x2="1582.38" y2="1126.00" stroke="#000" stroke-width="2.20" stroke-linecap="butt"/>
<line x1="230.50" y1="559.01" x2="246.00" y2="559.01" stroke="#000" stroke-width="2.20" stroke-linecap="butt"/>
<line x1="1760.00" y1="559.01" x2="1775.50" y2="559.01" stroke="#000" stroke-width="2.20" stroke-linecap="butt"/>
<line x1="230.50" y1="545.33" x2="246.00" y2="545.33" stroke="#000" stroke-width="2.20" stroke-linecap="butt"/>
<line x1="1760.00" y1="545.33" x2="1775.50" y2="545.33" stroke="#000" stroke-width="2.20" stroke-linecap="butt"/>
<line x1="230.50" y1="535.62" x2="246.00" y2="535.62" stroke="#000" stroke-width="2.20" stroke-linecap="butt"/>
<line x1="1760.00" y1="535.62" x2="1775.50" y2="535.62" stroke="#000" stroke-width="2.20" stroke-linecap="butt"/>
<line x1="230.50" y1="528.09" x2="246.00" y2="528.09" stroke="#000" stroke-width="2.20" stroke-linecap="butt"/>
<line x1="1760.00" y1="528.09" x2="1775.50" y2="528.09" stroke="#000" stroke-width="2.20" stroke-linecap="butt"/>
<line x1="230.50" y1="521.94" x2="246.00" y2="521.94" stroke="#000" stroke-width="2.20" stroke-linecap="butt"/>
<line x1="1760.00" y1="521.94" x2="1775.50" y2="521.94" stroke="#000" stroke-width="2.20" stroke-linecap="butt"/>
<line x1="230.50" y1="516.74" x2="246.00" y2="516.74" stroke="#000" stroke-width="2.20" stroke-linecap="butt"/>
<line x1="1760.00" y1="516.74" x2="1775.50" y2="516.74" stroke="#000" stroke-width="2.20" stroke-linecap="butt"/>
<line x1="230.50" y1="512.23" x2="246.00" y2="512.23" stroke="#000" stroke-width="2.20" stroke-linecap="butt"/>
<line x1="1760.00" y1="512.23" x2="1775.50" y2="512.23" stroke="#000" stroke-width="2.20" stroke-linecap="butt"/>
<line x1="230.50" y1="508.26" x2="246.00" y2="508.26" stroke="#000" stroke-width="2.20" stroke-linecap="butt"/>
<line x1="1760.00" y1="508.26" x2="1775.50" y2="508.26" stroke="#000" stroke-width="2.20" stroke-linecap="butt"/>
<line x1="230.50" y1="504.70" x2="246.00" y2="504.70" stroke="#000" stroke-width="2.20" stroke-linecap="butt"/>
<line x1="1760.00" y1="504.70" x2="1775.50" y2="504.70" stroke="#000" stroke-width="2.20" stroke-linecap="butt"/>
<line x1="230.50" y1="427.00" x2="261.50" y2="427.00" stroke="#000" stroke-width="2.20" stroke-linecap="butt"/>
<line x1="1744.50" y1="427.00" x2="1775.50" y2="427.00" stroke="#000" stroke-width="2.20" stroke-linecap="butt"/>
<line x1="230.50" y1="403.61" x2="246.00" y2="403.61" stroke="#000" stroke-width="2.20" stroke-linecap="butt"/>
<line x1="1760.00" y1="403.61" x2="1775.50" y2="403.61" stroke="#000" stroke-width="2.20" stroke-linecap="butt"/>
<line x1="230.50" y1="389.93" x2="246.00" y2="389.93" stroke="#000" stroke-width="2.20" stroke-linecap="butt"/>
<line x1="1760.00" y1="389.93" x2="1775.50" y2="389.93" stroke="#000" stroke-width="2.20" stroke-linecap="butt"/>
<line x1="230.50" y1="380.22" x2="246.00" y2="380.22" stroke="#000" stroke-width="2.20" stroke-linecap="butt"/>
<line x1="1760.00" y1="380.22" x2="1775.50" y2="380.22" stroke="#000" stroke-width="2.20" stroke-linecap="butt"/>
<line x1="230.50" y1="372.69" x2="246.00" y2="372.69" stroke="#000" stroke-width="2.20" stroke-linecap="butt"/>
<line x1="1760.00" y1="372.69" x2="1775.50" y2="372.69" stroke="#000" stroke-width="2.20" stroke-linecap="butt"/>
<line x1="230.50" y1="366.54" x2="246.00" y2="366.54" stroke="#000" stroke-width="2.20" stroke-linecap="butt"/>
<line x1="1760.00" y1="366.54" x2="1775.50" y2="366.54" stroke="#000" stroke-width="2.20" stroke-linecap="butt"/>
<line x1="230.50" y1="361.34" x2="246.00" y2="361.34" stroke="#000" stroke-width="2.20" stroke-linecap="butt"/>
<line x1="1760.00" y1="361.34" x2="1775.50" y2="361.34" stroke="#000" stroke-width="2.20" stroke-linecap="butt"/>
<line x1="230.50" y1="356.83" x2="246.00" y2="356.83" stroke="#000" stroke-width="2.20" stroke-linecap="butt"/>
<line x1="1760.00" y1="356.83" x2="1775.50" y2="356.83" stroke="#000" stroke-width="2.20" stroke-linecap="butt"/>
<line x1="230.50" y1="352.86" x2="246.00" y2="352.86" stroke="#000" stroke-width="2.20" stroke-linecap="butt"/>
<line x1="1760.00" y1="352.86" x2="1775.50" y2="352.86" stroke="#000" stroke-width="2.20" stroke-linecap="butt"/>
<line x1="230.50" y1="349.30" x2="246.00" y2="349.30" stroke="#000" stroke-width="2.20" stroke-linecap="butt"/>
<line x1="1760.00" y1="349.30" x2="1775.50" y2="349.30" stroke="#000" stroke-width="2.20" stroke-linecap="butt"/>
<line x1="230.50" y1="271.60" x2="261.50" y2="271.60" stroke="#000" stroke-width="2.20" stroke-linecap="butt"/>
<line x1="1744.50" y1="271.60" x2="1775.50" y2="271.60" stroke="#000" stroke-width="2.20" stroke-linecap="butt"/>
<line x1="230.50" y1="248.21" x2="246.00" y2="248.21" stroke="#000" stroke-width="2.20" stroke-linecap="butt"/>
<line x1="1760.00" y1="248.21" x2="1775.50" y2="248.21" stroke="#000" stroke-width="2.20" stroke-linecap="butt"/>
<line x1="230.50" y1="234.53" x2="246.00" y2="234.53" stroke="#000" stroke-width="2.20" stroke-linecap="butt"/>
<line x1="1760.00" y1="234.53" x2="1775.50" y2="234.53" stroke="#000" stroke-width="2.20" stroke-linecap="butt"/>
<line x1="230.50" y1="224.82" x2="246.00" y2="224.82" stroke="#000" stroke-width="2.20" stroke-linecap="butt"/>
<line x1="1760.00" y1="224.82" x2="1775.50" y2="224.82" stroke="#000" stroke-width="2.20" stroke-linecap="butt"/>
<line x1="230.50" y1="217.29" x2="246.00" y2="217.29" stroke="#000" stroke-width="2.20" stroke-linecap="butt"/>
<line x1="1760.00" y1="217.29" x2="1775.50" y2="217.29" stroke="#000" stroke-width="2.20" stroke-linecap="butt"/>
<line x1="230.50" y1="211.14" x2="246.00" y2="211.14" stroke="#000" stroke-width="2.20" stroke-linecap="butt"/>
<line x1="1760.00" y1="211.14" x2="1775.50" y2="211.14" stroke="#000" stroke-width="2.20" stroke-linecap="butt"/>
<line x1="230.50" y1="205.94" x2="246.00" y2="205.94" stroke="#000" stroke-width="2.20" stroke-linecap="butt"/>
<line x1="1760.00" y1="205.94" x2="1775.50" y2="205.94" stroke="#000" stroke-width="2.20" stroke-linecap="butt"/>
<line x1="230.50" y1="201.43" x2="246.00" y2="201.43" stroke="#000" stroke-width="2.20" stroke-linecap="butt"/>
<line x1="1760.00" y1="201.43" x2="1775.50" y2="201.43" stroke="#000" stroke-width="2.20" stroke-linecap="butt"/>
<line x1="230.50" y1="197.46" x2="246.00" y2="197.46" stroke="#000" stroke-width="2.20" stroke-linecap="butt"/>
<line x1="1760.00" y1="197.46" x2="1775.50" y2="197.46" stroke="#000" stroke-width="2.20" stroke-linecap="butt"/>
<line x1="230.50" y1="193.90" x2="246.00" y2="193.90" stroke="#000" stroke-width="2.20" stroke-linecap="butt"/>
<line x1="1760.00" y1="193.90" x2="1775.50" y2="193.90" stroke="#000" stroke-width="2.20" stroke-linecap="butt"/>
<line x1="230.50" y1="116.20" x2="261.50" y2="116.20" stroke="#000" stroke-width="2.20" stroke-linecap="butt"/>
<line x1="1744.50" y1="116.20" x2="1775.50" y2="116.20" stroke="#000" stroke-width="2.20" stroke-linecap="butt"/>
<line x1="230.50" y1="92.81" x2="246.00" y2="92.81" stroke="#000" stroke-width="2.20" stroke-linecap="butt"/>
<line x1="1760.00" y1="92.81" x2="1775.50" y2="92.81" stroke="#000" stroke-width="2.20" stroke-linecap="butt"/>
<line x1="230.50" y1="79.13" x2="246.00" y2="79.13" stroke="#000" stroke-width="2.20" stroke-linecap="butt"/>
<line x1="1760.00" y1="79.13" x2="1775.50" y2="79.13" stroke="#000" stroke-width="2.20" stroke-linecap="butt"/>
<line x1="230.50" y1="69.42" x2="246.00" y2="69.42" stroke="#000" stroke-width="2.20" stroke-linecap="butt"/>
<line x1="1760.00" y1="69.42" x2="1775.50" y2="69.42" stroke="#000" stroke-width="2.20" stroke-linecap="butt"/>
<line x1="230.50" y1="61.89" x2="246.00" y2="61.89" stroke="#000" stroke-width="2.20" stroke-linecap="butt"/>
<line x1="1760.00" y1="61.89" x2="1775.50" y2="61.89" stroke="#000" stroke-width="2.20" stroke-linecap="butt"/>
<line x1="230.50" y1="55.74" x2="246.00" y2="55.74" stroke="#000" stroke-width="2.20" stroke-linecap="butt"/>
<line x1="1760.00" y1="55.74" x2="1775.50" y2="55.74" stroke="#000" stroke-width="2.20" stroke-linecap="butt"/>
<line x1="230.50" y1="50.54" x2="246.00" y2="50.54" stroke="#000" stroke-width="2.20" stroke-linecap="butt"/>
<line x1="1760.00" y1="50.54" x2="1775.50" y2="50.54" stroke="#000" stroke-width="2.20" stroke-linecap="butt"/>
<line x1="230.50" y1="46.03" x2="246.00" y2="46.03" stroke="#000" stroke-width="2.20" stroke-linecap="butt"/>
<line x1="1760.00" y1="46.03" x2="1775.50" y2="46.03" stroke="#000" stroke-width="2.20" stroke-linecap="butt"/>
<line x1="230.50" y1="42.06" x2="246.00" y2="42.06" stroke="#000" stroke-width="2.20" stroke-linecap="butt"/>
<line x1="1760.00" y1="42.06" x2="1775.50" y2="42.06" stroke="#000" stroke-width="2.20" stroke-linecap="butt"/>
<line x1="230.50" y1="1070.84" x2="246.00" y2="1070.84" stroke="#000" stroke-width="2.20" stroke-linecap="butt"/>
<line x1="1760.00" y1="1070.84" x2="1775.50" y2="1070.84" stroke="#000" stroke-width="2.20" stroke-linecap="butt"/>
<line x1="230.50" y1="1015.98" x2="261.50" y2="1015.98" stroke="#000" stroke-width="2.20" stroke-linecap="butt"/>
<line x1="1744.50" y1="1015.98" x2="1775.50" y2="1015.98" stroke="#000" stroke-width="2.20" stroke-linecap="butt"/>
<line x1="230.50" y1="961.12" x2="246.00" y2="961.12" stroke="#000" stroke-width="2.20" stroke-linecap="butt"/>
<line x1="1760.00" y1="961.12" x2="1775.50" y2="961.12" stroke="#000" stroke-width="2.20" stroke-linecap="butt"/>
<line x1="230.50" y1="906.26" x2="261.50" y2="906.26" stroke="#000" stroke-width="2.20" stroke-linecap="butt"/>
<line x1="1744.50" y1="906.26" x2="1775.50" y2="906.26" stroke="#000" stroke-width="2.20" stroke-linecap="butt"/>
<line x1="230.50" y1="851.40" x2="246.00" y2="851.40" stroke="#000" stroke-width="2.20" stroke-linecap="butt"/>
<line x1="1760.00" y1="851.40" x2="1775.50" y2="851.40" stroke="#000" stroke-width="2.20" stroke-linecap="butt"/>
<line x1="230.50" y1="796.54" x2="261.50" y2="796.54" stroke="#000" stroke-width="2.20" stroke-linecap="butt"/>
<line x1="1744.50" y1="796.54" x2="1775.50" y2="796.54" stroke="#000" stroke-width="2.20" stroke-linecap="butt"/>
<line x1="230.50" y1="741.68" x2="246.00" y2="741.68" stroke="#000" stroke-width="2.20" stroke-linecap="butt"/>
<line x1="1760.00" y1="741.68" x2="1775.50" y2="741.68" stroke="#000" stroke-width="2.20" stroke-linecap="butt"/>
<line x1="230.50" y1="686.82" x2="261.50" y2="686.82" stroke="#000" stroke-width="2.20" stroke-linecap="butt"/>
<line x1="1744.50" y1="686.82" x2="1775.50" y2="686.82" stroke="#000" stroke-width="2.20" stroke-linecap="butt"/>
<line x1="230.50" y1="631.96" x2="246.00" y2="631.96" stroke="#000" stroke-width="2.20" stroke-linecap="butt"/>
<line x1="1760.00" y1="631.96" x2="1775.50" y2="631.96" stroke="#000" stroke-width="2.20" stroke-linecap="butt"/>
<rect x="230.50" y="38.50" width="1545.00" height="1087.50" fill="none" stroke="#000" stroke-width="3.00"/>
<line x1="230.50" y1="582.40" x2="1775.50" y2="582.40" stroke="#000" stroke-width="3.00" stroke-linecap="butt"/>
</g>
<g font-family="'Liberation Serif','DejaVu Serif',serif" fill="#000">
<text transform="translate(231.10,1186.40)" font-size="65" text-anchor="middle">0</text>
<text transform="translate(617.25,1186.40)" font-size="65" text-anchor="middle">100</text>
<text transform="translate(1002.40,1186.40)" font-size="65" text-anchor="middle">200</text>
<text transform="translate(1388.65,1186.40)" font-size="65" text-anchor="middle">300</text>
<text transform="translate(1775.50,1186.40)" font-size="65" text-anchor="middle">400</text>
<text transform="translate(215.30,1037.88)" font-size="65" text-anchor="end">0.2</text>
<text transform="translate(215.30,928.16)" font-size="65" text-anchor="end">0.4</text>
<text transform="translate(215.30,818.44)" font-size="65" text-anchor="end">0.6</text>
<text transform="translate(215.30,708.72)" font-size="65" text-anchor="end">0.8</text>
<text transform="translate(176.50,617.60)" font-size="65" text-anchor="end">10</text>
<text transform="translate(212.60,578.40) scale(0.88,1)" font-size="46" text-anchor="end">-4</text>
<text transform="translate(176.50,462.20)" font-size="65" text-anchor="end">10</text>
<text transform="translate(212.60,423.00) scale(0.88,1)" font-size="46" text-anchor="end">-2</text>
<text transform="translate(192.00,306.80)" font-size="65" text-anchor="end">10</text>
<text transform="translate(212.60,267.60) scale(0.88,1)" font-size="46" text-anchor="end">0</text>
<text transform="translate(192.00,151.40)" font-size="65" text-anchor="end">10</text>
<text transform="translate(212.60,112.20) scale(0.88,1)" font-size="46" text-anchor="end">2</text>
<text transform="translate(942.00,1252.20) scale(1.2,1.106)" font-size="66" font-style="italic" stroke="#fff" stroke-width="0.9">t</text>
<text transform="translate(970.70,1266.80) skewX(-8.5) scale(1,1.847)" font-size="53">/</text>
<text transform="translate(997.20,1252.20) scale(1.2,1.106)" font-size="66" font-style="italic" stroke="#fff" stroke-width="0.9">t</text>
<text transform="translate(1023.20,1261.70) scale(1.22,1)" font-size="45" font-style="italic" stroke="#fff" stroke-width="0.6">m</text>
<text transform="translate(115.20,852.60) rotate(-90) scale(0.93,1)" font-size="62.6" text-anchor="middle" stroke="#000" stroke-width="0.9">Ψ</text>
<text transform="translate(79.50,376.50) rotate(-90) scale(1,1.42)" font-size="48" letter-spacing="3.4">||</text>
<text transform="translate(80.80,351.30) rotate(-90)" font-size="59" font-family="'DejaVu Math TeX Gyre','DejaVu Sans','Liberation Serif',serif">ℋ</text>
<text transform="translate(79.50,287.70) rotate(-90) scale(1,1.42)" font-size="48" letter-spacing="3.4">||</text>
<text transform="translate(87.40,259.80) rotate(-90)" font-size="41.5">2</text>
</g>
<rect x="1166.7" y="673.7" width="382.8" height="290.0" fill="#fff" stroke="#000" stroke-width="2.2"/>
<g font-family="'Liberation Serif','DejaVu Serif',serif" fill="#000">
<line x1="1184.00" y1="715.80" x2="1246.00" y2="715.80" stroke="#000" stroke-width="3.20" stroke-linecap="butt"/>
<text transform="translate(1278.00,733.00) scale(0.9,1)" font-size="61" font-style="italic" stroke="#fff" stroke-width="0.7">δ</text>
<text transform="translate(1304.40,742.60) scale(1.2,1)" font-size="39" font-style="italic" stroke="#fff" stroke-width="0.5">m</text>
<text transform="translate(1363.20,738.80) scale(1.23,1)" font-size="64" stroke="#fff" stroke-width="0.9">=</text>
<text transform="translate(1427.90,733.00)" font-size="59.5" letter-spacing="1" stroke="#fff" stroke-width="0.5">0.51</text>
<line x1="1184.00" y1="784.53" x2="1246.00" y2="784.53" stroke="#f00" stroke-width="3.20" stroke-linecap="butt"/>
<text transform="translate(1278.00,801.73) scale(0.9,1)" font-size="61" font-style="italic" stroke="#fff" stroke-width="0.7">δ</text>
<text transform="translate(1304.40,811.33) scale(1.2,1)" font-size="39" font-style="italic" stroke="#fff" stroke-width="0.5">m</text>
<text transform="translate(1363.20,807.53) scale(1.23,1)" font-size="64" stroke="#fff" stroke-width="0.9">=</text>
<text transform="translate(1427.90,801.73)" font-size="59.5" letter-spacing="1" stroke="#fff" stroke-width="0.5">0.55</text>
<line x1="1184.00" y1="853.26" x2="1246.00" y2="853.26" stroke="#0f0" stroke-width="3.20" stroke-linecap="butt"/>
<text transform="translate(1278.00,870.46) scale(0.9,1)" font-size="61" font-style="italic" stroke="#fff" stroke-width="0.7">δ</text>
<text transform="translate(1304.40,880.06) scale(1.2,1)" font-size="39" font-style="italic" stroke="#fff" stroke-width="0.5">m</text>
<text transform="translate(1363.20,876.26) scale(1.23,1)" font-size="64" stroke="#fff" stroke-width="0.9">=</text>
<text transform="translate(1427.90,870.46)" font-size="59.5" letter-spacing="1" stroke="#fff" stroke-width="0.5">0.61</text>
<line x1="1184.00" y1="921.99" x2="1246.00" y2="921.99" stroke="#00f" stroke-width="3.20" stroke-linecap="butt"/>
<text transform="translate(1278.00,939.19) scale(0.9,1)" font-size="61" font-style="italic" stroke="#fff" stroke-width="0.7">δ</text>
<text transform="translate(1304.40,948.79) scale(1.2,1)" font-size="39" font-style="italic" stroke="#fff" stroke-width="0.5">m</text>
<text transform="translate(1363.20,944.99) scale(1.23,1)" font-size="64" stroke="#fff" stroke-width="0.9">=</text>
<text transform="translate(1427.90,939.19)" font-size="59.5" letter-spacing="1" stroke="#fff" stroke-width="0.5">0.65</text>
</g>
</svg>
</body></html>
